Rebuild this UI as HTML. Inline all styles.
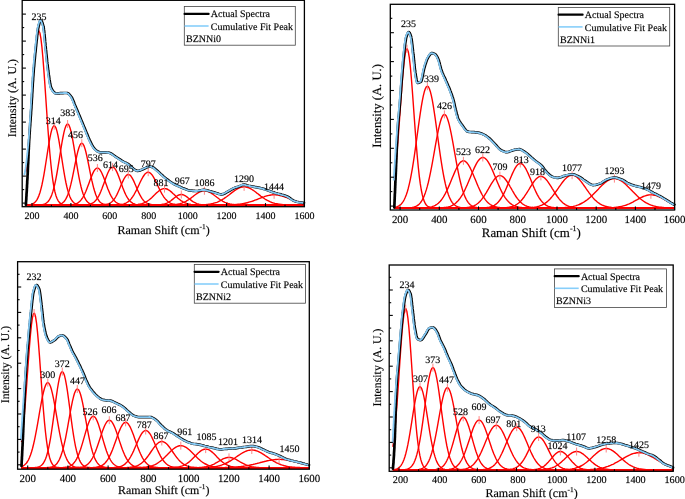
<!DOCTYPE html>
<html><head><meta charset="utf-8"><style>
html,body{margin:0;padding:0;background:#fff;overflow:hidden}
svg{display:block;will-change:transform;text-rendering:geometricPrecision;font-family:"Liberation Serif",serif;fill:#000}
text{stroke:#000;stroke-width:0.28px;stroke-opacity:0.55}
.r{fill:none;stroke:#f00;stroke-width:1.4;stroke-linejoin:round}
.m{stroke:#f77;stroke-width:0.9}
.k{fill:none;stroke:#000;stroke-width:2.7;stroke-linejoin:round;stroke-linecap:round}
.b{fill:none;stroke:#84c8f2;stroke-width:1.8;stroke-linejoin:round}
.fr{fill:none;stroke:#000;stroke-width:1.3}
.t{stroke:#000;stroke-width:1.1}
.lg{fill:none;stroke:#444;stroke-width:0.8}
.kl{stroke:#000;stroke-width:2.2;stroke-linecap:round}
.bl{stroke:#87cefa;stroke-width:1.6}
</style></head><body>
<svg width="685" height="499" viewBox="0 0 685 499">
<path d="M25.9,171.5 26.9,162.1 27.9,151.3 28.9,139 29.9,125.5 30.9,111.1 31.9,96.3 32.9,81.6 33.9,67.7 34.9,55.2 35.9,44.8 36.9,37 37.9,32.3 38.9,30.9 39.9,33 40.9,38.4 41.9,46.8 42.9,57.7 43.9,70.6 44.9,84.7 45.9,99.5 46.9,114.2 47.9,128.5 48.9,141.7 49.9,153.7 50.9,164.3 51.9,173.3 52.9,180.8 53.9,186.9 54.9,191.7 55.9,195.4 56.9,198.2 57.9,200.3 58.9,201.8 59.9,202.9 60.9,203.6 61.9,204.1 62.9,204.5 63.9,204.7 64.9,204.8 65.9,204.9 66.9,204.9 67.9,205 304.4,205" class="r"/>
<path d="M38.8,26.9V34.9" class="m"/>
<path d="M25.9,204.9 26.9,204.9 27.9,204.9 28.9,204.8 29.9,204.6 30.9,204.4 31.9,204.1 32.9,203.7 33.9,203.1 34.9,202.3 35.9,201.2 36.9,199.8 37.9,197.9 38.9,195.6 39.9,192.7 40.9,189.1 41.9,185 42.9,180.2 43.9,174.8 44.9,168.8 45.9,162.5 46.9,156.1 47.9,149.6 48.9,143.5 49.9,137.9 50.9,133.1 51.9,129.3 52.9,126.9 53.9,125.8 54.9,126.1 55.9,127.8 56.9,130.9 57.9,135.2 58.9,140.4 59.9,146.3 60.9,152.6 61.9,159.1 62.9,165.5 63.9,171.6 64.9,177.3 65.9,182.5 66.9,187 67.9,190.9 68.9,194.1 69.9,196.7 70.9,198.9 71.9,200.5 72.9,201.8 73.9,202.7 74.9,203.4 75.9,203.9 76.9,204.3 77.9,204.5 78.9,204.7 79.9,204.8 80.9,204.9 81.9,204.9 82.9,205 304.4,205" class="r"/>
<path d="M54.2,121.7V129.7" class="m"/>
<path d="M25.9,205 36.9,205 37.9,204.9 38.9,204.9 39.9,204.9 40.9,204.8 41.9,204.7 42.9,204.5 43.9,204.2 44.9,203.8 45.9,203.3 46.9,202.6 47.9,201.7 48.9,200.5 49.9,198.9 50.9,196.9 51.9,194.4 52.9,191.4 53.9,187.8 54.9,183.6 55.9,178.8 56.9,173.5 57.9,167.7 58.9,161.6 59.9,155.3 60.9,149 61.9,143 62.9,137.5 63.9,132.6 64.9,128.7 65.9,125.9 66.9,124.3 67.9,124.1 68.9,125.1 69.9,127.5 70.9,131 71.9,135.5 72.9,140.8 73.9,146.6 74.9,152.8 75.9,159.1 76.9,165.3 77.9,171.3 78.9,176.8 79.9,181.8 80.9,186.2 81.9,190 82.9,193.3 83.9,196 84.9,198.2 85.9,199.9 86.9,201.3 87.9,202.3 88.9,203.1 89.9,203.7 90.9,204.1 91.9,204.4 92.9,204.6 93.9,204.7 94.9,204.8 95.9,204.9 96.9,204.9 97.9,205 304.4,205" class="r"/>
<path d="M67.6,120V128" class="m"/>
<path d="M25.9,205 52.9,205 53.9,204.9 54.9,204.9 55.9,204.9 56.9,204.8 57.9,204.7 58.9,204.5 59.9,204.2 60.9,203.9 61.9,203.3 62.9,202.6 63.9,201.7 64.9,200.5 65.9,198.9 66.9,196.9 67.9,194.4 68.9,191.5 69.9,188.1 70.9,184.2 71.9,179.8 72.9,175.1 73.9,170.1 74.9,165 75.9,160.1 76.9,155.4 77.9,151.2 78.9,147.8 79.9,145.2 80.9,143.7 81.9,143.2 82.9,143.9 83.9,145.6 84.9,148.4 85.9,152 86.9,156.3 87.9,161 88.9,166 89.9,171.1 90.9,176 91.9,180.7 92.9,184.9 93.9,188.8 94.9,192.1 95.9,195 96.9,197.3 97.9,199.2 98.9,200.7 99.9,201.9 100.9,202.8 101.9,203.5 102.9,203.9 103.9,204.3 104.9,204.5 105.9,204.7 106.9,204.8 107.9,204.9 108.9,204.9 109.9,205 304.4,205" class="r"/>
<path d="M81.8,139.2V147.2" class="m"/>
<path d="M25.9,205 66.9,205 67.9,204.9 68.9,204.9 69.9,204.9 70.9,204.8 71.9,204.7 72.9,204.6 73.9,204.4 74.9,204.2 75.9,203.8 76.9,203.4 77.9,202.8 78.9,202.1 79.9,201.2 80.9,200.1 81.9,198.8 82.9,197.3 83.9,195.5 84.9,193.5 85.9,191.2 86.9,188.7 87.9,186.1 88.9,183.4 89.9,180.6 90.9,178 91.9,175.4 92.9,173.1 93.9,171.2 94.9,169.7 95.9,168.6 96.9,168.1 97.9,168.1 98.9,168.6 99.9,169.7 100.9,171.3 101.9,173.3 102.9,175.6 103.9,178.1 104.9,180.8 105.9,183.5 106.9,186.2 107.9,188.9 108.9,191.3 109.9,193.6 110.9,195.6 111.9,197.4 112.9,198.9 113.9,200.2 114.9,201.3 115.9,202.2 116.9,202.9 117.9,203.4 118.9,203.8 119.9,204.2 120.9,204.4 121.9,204.6 122.9,204.7 123.9,204.8 124.9,204.9 125.9,204.9 126.9,204.9 127.9,205 304.4,205" class="r"/>
<path d="M97.4,164V172" class="m"/>
<path d="M25.9,205 81.9,205 82.9,204.9 83.9,204.9 84.9,204.9 85.9,204.8 86.9,204.7 87.9,204.6 88.9,204.4 89.9,204.2 90.9,203.9 91.9,203.4 92.9,202.9 93.9,202.2 94.9,201.3 95.9,200.2 96.9,198.9 97.9,197.4 98.9,195.6 99.9,193.6 100.9,191.3 101.9,188.8 102.9,186.1 103.9,183.4 104.9,180.6 105.9,177.8 106.9,175.2 107.9,172.8 108.9,170.7 109.9,169 110.9,167.9 111.9,167.2 112.9,167.1 113.9,167.6 114.9,168.6 115.9,170.1 116.9,172.1 117.9,174.4 118.9,177 119.9,179.7 120.9,182.5 121.9,185.3 122.9,188 123.9,190.5 124.9,192.9 125.9,195 126.9,196.9 127.9,198.5 128.9,199.9 129.9,201 130.9,201.9 131.9,202.7 132.9,203.3 133.9,203.7 134.9,204.1 135.9,204.4 136.9,204.6 137.9,204.7 138.9,204.8 139.9,204.9 140.9,204.9 141.9,204.9 142.9,205 304.4,205" class="r"/>
<path d="M112.6,163.1V171.1" class="m"/>
<path d="M25.9,205 99.9,205 100.9,204.9 101.9,204.9 102.9,204.9 103.9,204.8 104.9,204.7 105.9,204.5 106.9,204.3 107.9,204 108.9,203.6 109.9,203.1 110.9,202.5 111.9,201.7 112.9,200.7 113.9,199.5 114.9,198.1 115.9,196.5 116.9,194.6 117.9,192.5 118.9,190.3 119.9,188 120.9,185.6 121.9,183.3 122.9,181.1 123.9,179 124.9,177.3 125.9,175.9 126.9,175 127.9,174.5 128.9,174.6 129.9,175.1 130.9,176.1 131.9,177.6 132.9,179.4 133.9,181.4 134.9,183.7 135.9,186 136.9,188.4 137.9,190.7 138.9,192.9 139.9,194.9 140.9,196.7 141.9,198.3 142.9,199.7 143.9,200.9 144.9,201.8 145.9,202.6 146.9,203.2 147.9,203.7 148.9,204.1 149.9,204.3 150.9,204.5 151.9,204.7 152.9,204.8 153.9,204.9 154.9,204.9 155.9,204.9 156.9,205 304.4,205" class="r"/>
<path d="M128.3,170.5V178.5" class="m"/>
<path d="M25.9,205 113.9,205 114.9,204.9 115.9,204.9 116.9,204.9 117.9,204.8 118.9,204.8 119.9,204.7 120.9,204.5 121.9,204.4 122.9,204.2 123.9,203.9 124.9,203.5 125.9,203.1 126.9,202.5 127.9,201.9 128.9,201.1 129.9,200.2 130.9,199.1 131.9,197.8 132.9,196.4 133.9,194.8 134.9,193 135.9,191.2 136.9,189.2 137.9,187.1 138.9,185 139.9,182.8 140.9,180.8 141.9,178.8 142.9,177 143.9,175.5 144.9,174.1 145.9,173.2 146.9,172.5 147.9,172.2 148.9,172.3 149.9,172.8 150.9,173.6 151.9,174.7 152.9,176.1 153.9,177.8 154.9,179.7 155.9,181.7 156.9,183.8 157.9,185.9 158.9,188 159.9,190.1 160.9,192 161.9,193.9 162.9,195.5 163.9,197.1 164.9,198.4 165.9,199.6 166.9,200.6 167.9,201.5 168.9,202.2 169.9,202.8 170.9,203.3 171.9,203.7 172.9,204 173.9,204.3 174.9,204.5 175.9,204.6 176.9,204.7 177.9,204.8 178.9,204.9 179.9,204.9 180.9,204.9 181.9,205 304.4,205" class="r"/>
<path d="M148.2,168.2V176.2" class="m"/>
<path d="M25.9,205 129.9,205 130.9,204.9 131.9,204.9 132.9,204.9 133.9,204.8 134.9,204.8 135.9,204.7 136.9,204.6 137.9,204.5 138.9,204.3 139.9,204.1 140.9,203.9 141.9,203.7 142.9,203.3 143.9,202.9 144.9,202.5 145.9,202 146.9,201.4 147.9,200.7 148.9,200 149.9,199.2 150.9,198.4 151.9,197.5 152.9,196.5 153.9,195.5 154.9,194.6 155.9,193.6 156.9,192.6 157.9,191.8 158.9,190.9 159.9,190.2 160.9,189.6 161.9,189.1 162.9,188.8 163.9,188.6 164.9,188.6 165.9,188.8 166.9,189 167.9,189.5 168.9,190.1 169.9,190.8 170.9,191.6 171.9,192.4 172.9,193.4 173.9,194.3 174.9,195.3 175.9,196.3 176.9,197.2 177.9,198.2 178.9,199 179.9,199.8 180.9,200.6 181.9,201.2 182.9,201.8 183.9,202.4 184.9,202.8 185.9,203.2 186.9,203.6 187.9,203.9 188.9,204.1 189.9,204.3 190.9,204.5 191.9,204.6 192.9,204.7 193.9,204.8 194.9,204.8 195.9,204.9 196.9,204.9 197.9,204.9 198.9,204.9 199.9,205 304.4,205" class="r"/>
<path d="M164.5,184.6V192.6" class="m"/>
<path d="M25.9,205 154.9,205 155.9,204.9 156.9,204.9 157.9,204.9 158.9,204.8 159.9,204.8 160.9,204.7 161.9,204.5 162.9,204.3 163.9,204.1 164.9,203.8 165.9,203.5 166.9,203.1 167.9,202.6 168.9,202 169.9,201.4 170.9,200.7 171.9,199.9 172.9,199.1 173.9,198.3 174.9,197.5 175.9,196.7 176.9,196 177.9,195.4 178.9,195 179.9,194.7 180.9,194.5 181.9,194.5 182.9,194.7 183.9,195.1 184.9,195.6 185.9,196.2 186.9,196.9 187.9,197.7 188.9,198.5 189.9,199.3 190.9,200.1 191.9,200.9 192.9,201.6 193.9,202.2 194.9,202.7 195.9,203.2 196.9,203.6 197.9,203.9 198.9,204.2 199.9,204.4 200.9,204.6 201.9,204.7 202.9,204.8 203.9,204.8 204.9,204.9 205.9,204.9 206.9,205 304.4,205" class="r"/>
<path d="M181.3,190.5V198.5" class="m"/>
<path d="M25.9,205 165.9,205 166.9,204.9 167.9,204.9 168.9,204.9 169.9,204.9 170.9,204.8 171.9,204.8 172.9,204.7 173.9,204.6 174.9,204.5 175.9,204.4 176.9,204.3 177.9,204.1 178.9,203.9 179.9,203.7 180.9,203.4 181.9,203.1 182.9,202.7 183.9,202.3 184.9,201.8 185.9,201.3 186.9,200.7 187.9,200.1 188.9,199.5 189.9,198.8 190.9,198.1 191.9,197.3 192.9,196.6 193.9,195.8 194.9,195 195.9,194.3 196.9,193.6 197.9,193 198.9,192.4 199.9,191.9 200.9,191.5 201.9,191.1 202.9,190.9 203.9,190.8 204.9,190.8 205.9,190.9 206.9,191.1 207.9,191.5 208.9,191.9 209.9,192.4 210.9,193 211.9,193.6 212.9,194.3 213.9,195 214.9,195.8 215.9,196.5 216.9,197.3 217.9,198 218.9,198.8 219.9,199.5 220.9,200.1 221.9,200.7 222.9,201.3 223.9,201.8 224.9,202.3 225.9,202.7 226.9,203 227.9,203.4 228.9,203.6 229.9,203.9 230.9,204.1 231.9,204.3 232.9,204.4 233.9,204.5 234.9,204.6 235.9,204.7 236.9,204.8 237.9,204.8 238.9,204.9 239.9,204.9 240.9,204.9 241.9,204.9 242.9,205 304.4,205" class="r"/>
<path d="M204.4,186.8V194.8" class="m"/>
<path d="M25.9,205 195.9,205 196.9,204.9 197.9,204.9 198.9,204.9 199.9,204.9 200.9,204.8 201.9,204.8 202.9,204.8 203.9,204.7 204.9,204.6 205.9,204.6 206.9,204.5 207.9,204.4 208.9,204.2 209.9,204.1 210.9,203.9 211.9,203.7 212.9,203.5 213.9,203.2 214.9,202.9 215.9,202.6 216.9,202.3 217.9,201.9 218.9,201.4 219.9,200.9 220.9,200.4 221.9,199.9 222.9,199.2 223.9,198.6 224.9,197.9 225.9,197.2 226.9,196.5 227.9,195.7 228.9,195 229.9,194.2 230.9,193.4 231.9,192.6 232.9,191.9 233.9,191.1 234.9,190.4 235.9,189.8 236.9,189.1 237.9,188.6 238.9,188.1 239.9,187.7 240.9,187.4 241.9,187.1 242.9,187 243.9,186.9 244.9,186.9 245.9,187 246.9,187.3 247.9,187.5 248.9,187.9 249.9,188.4 250.9,188.9 251.9,189.5 252.9,190.1 253.9,190.8 254.9,191.5 255.9,192.3 256.9,193.1 257.9,193.8 258.9,194.6 259.9,195.4 260.9,196.2 261.9,196.9 262.9,197.6 263.9,198.3 264.9,199 265.9,199.6 266.9,200.2 267.9,200.7 268.9,201.2 269.9,201.7 270.9,202.1 271.9,202.5 272.9,202.8 273.9,203.1 274.9,203.4 275.9,203.6 276.9,203.8 277.9,204 278.9,204.2 279.9,204.3 280.9,204.4 281.9,204.5 282.9,204.6 283.9,204.7 284.9,204.7 285.9,204.8 286.9,204.8 287.9,204.9 288.9,204.9 289.9,204.9 290.9,204.9 291.9,204.9 292.9,205 304.4,205" class="r"/>
<path d="M244.1,182.9V190.9" class="m"/>
<path d="M25.9,205 222.9,205 223.9,204.9 224.9,204.9 225.9,204.9 226.9,204.9 227.9,204.9 228.9,204.8 229.9,204.8 230.9,204.8 231.9,204.7 232.9,204.7 233.9,204.6 234.9,204.6 235.9,204.5 236.9,204.4 237.9,204.3 238.9,204.2 239.9,204.1 240.9,203.9 241.9,203.8 242.9,203.6 243.9,203.4 244.9,203.2 245.9,203 246.9,202.8 247.9,202.5 248.9,202.2 249.9,201.9 250.9,201.6 251.9,201.3 252.9,201 253.9,200.6 254.9,200.2 255.9,199.8 256.9,199.5 257.9,199.1 258.9,198.7 259.9,198.3 260.9,197.9 261.9,197.5 262.9,197.1 263.9,196.8 264.9,196.4 265.9,196.1 266.9,195.8 267.9,195.6 268.9,195.4 269.9,195.2 270.9,195 271.9,194.9 272.9,194.8 273.9,194.8 274.9,194.8 275.9,194.9 276.9,195 277.9,195.1 278.9,195.3 279.9,195.5 280.9,195.7 281.9,196 282.9,196.3 283.9,196.6 284.9,197 285.9,197.4 286.9,197.7 287.9,198.1 288.9,198.5 289.9,198.9 290.9,199.3 291.9,199.7 292.9,200.1 293.9,200.5 294.9,200.8 295.9,201.2 296.9,201.5 297.9,201.8 298.9,202.1 299.9,202.4 300.9,202.7 301.9,202.9 302.9,203.2 303.9,203.4 304.4,203.5" class="r"/>
<path d="M274.1,190.8V198.8" class="m"/>
<path d="M25.9,204.6 26,203.5 26,202.4 26.1,201.3 26.2,200.2 26.3,199.1 26.3,197.9 26.4,196.7 26.5,195.6 26.5,194.4 26.6,193.2 26.7,191.9 26.8,190.7 26.8,189.5 26.9,188.2 27,186.9 27,185.7 27.1,184.4 27.2,183.1 27.2,181.7 27.3,180.4 27.4,179.1 27.5,177.7 27.5,176.4 27.6,175 27.7,173.9 27.7,172.8 27.8,171.6 27.8,170.5 27.9,169.3 27.9,168.1 28,166.8 28,165.6 28.1,164.3 28.2,163 28.2,161.7 28.3,160.4 28.3,159.1 28.4,157.8 28.4,156.6 28.5,155.3 28.5,154 28.6,152.7 28.6,151.4 28.7,150.2 28.8,149 28.8,147.7 28.9,146.6 28.9,145.4 29,144.2 29,143.1 29.1,142.1 29.1,141 29.2,140 29.3,138.6 29.4,137.2 29.4,135.9 29.5,134.6 29.6,133.3 29.7,132 29.8,130.8 29.8,129.6 29.9,128.4 30,127.2 30.1,126.1 30.2,124.9 30.2,123.8 30.3,122.7 30.4,121.6 30.5,120.4 30.6,119.3 30.6,118.2 30.7,117.1 30.8,115.9 30.9,114.8 31,113.6 31,112.4 31.1,111.2 31.2,110 31.3,108.8 31.4,107.6 31.4,106.3 31.5,105.1 31.6,103.8 31.7,102.6 31.7,101.3 31.8,100 31.9,98.7 32,97.4 32.1,96.1 32.1,94.8 32.2,93.5 32.3,92.1 32.4,90.8 32.4,89.6 32.5,88.3 32.6,87 32.7,85.7 32.7,84.5 32.8,83.2 32.9,82 33,80.8 33.1,79.6 33.1,78.4 33.2,77.3 33.3,76.2 33.4,75.1 33.4,74 33.5,73 33.6,72 33.7,70.5 33.8,69.1 33.9,67.7 34.1,66.4 34.2,65 34.3,63.7 34.4,62.4 34.5,61.2 34.6,59.9 34.8,58.7 34.9,57.5 35,56.3 35.1,55.2 35.2,54 35.3,52.9 35.5,51.8 35.6,50.7 35.7,49.6 35.8,48.5 35.9,47.1 36.1,45.7 36.2,44.2 36.4,42.8 36.5,41.3 36.7,39.9 36.9,38.5 37,37.1 37.1,35.7 37.3,34.4 37.4,33.1 37.6,31.9 37.8,30.8 37.9,29.8 38,28.8 38.2,27.9 38.4,27.2 38.5,26.5 39,24.7 39.4,23 39.9,21.6 40.3,20.7 40.8,20.3 41.3,20.6 41.8,21.5 42.4,22.9 42.9,24.6 43.4,26.5 43.5,27.1 43.7,27.8 43.8,28.7 43.9,29.7 44.1,30.8 44.2,31.9 44.3,33.2 44.5,34.5 44.6,35.9 44.7,37.3 44.9,38.8 45,40.2 45.1,41.7 45.3,43.1 45.4,44.6 45.5,45.9 45.7,47.3 45.8,48.5 45.9,49.7 46.1,51 46.2,52.3 46.3,53.6 46.5,54.9 46.6,56.2 46.7,57.5 46.9,58.8 47,60.1 47.1,61.4 47.3,62.7 47.4,63.9 47.6,65.2 47.7,66.4 47.8,67.6 48,68.7 48.1,69.8 48.2,70.8 48.4,71.8 48.5,72.8 48.7,74.4 49,76 49.2,77.6 49.4,79.2 49.7,80.8 49.9,82.2 50.1,83.6 50.4,84.8 50.6,85.9 50.8,86.9 51.1,87.6 51.3,88.2 52.5,90.4 53.8,92 55,93.1 56.2,93.5 57.6,93.4 59,93.3 60.3,93.2 61.7,93.1 63.1,93.1 64.5,93 65.8,93 67.2,93 68.7,93.7 70.1,95.3 71.6,97.3 72.2,98.3 72.7,99.5 73.3,100.9 73.9,102.3 74.4,103.8 75,105.2 75.6,106.6 76.2,108 76.8,109.4 77.4,110.8 77.9,112 78.4,113.2 78.9,114.4 79.4,115.6 79.9,116.8 80.4,118 80.9,119.2 81.4,120.4 81.9,121.6 82.4,122.8 82.9,124 83.4,125.2 83.9,126.4 84.4,127.6 84.9,128.8 85.4,130 85.9,131.2 86.4,132.4 87,133.9 87.6,135.3 88.2,136.8 88.8,138.2 89.4,139.6 90,140.9 90.6,142.2 91.2,143.4 91.8,144.6 92.4,145.6 93.4,147.2 94.4,148.7 95.4,149.8 96.9,151 98.5,151.9 100,152.3 101.6,152.3 103.1,152.3 104.7,152.3 106.2,152.4 107.8,152.5 109.3,152.8 111,153.5 112.8,154.6 114,155.5 115.2,156.4 117,157.6 118.7,158.7 120.3,159.7 121.8,160.7 123.4,161.6 124.9,162.4 126.5,163.1 128,163.9 129.8,165.3 131.5,166.9 133.2,168.5 135,169.8 136.2,170.5 137.4,170.9 139.2,170.6 140.9,170.1 142.4,169.5 144,168.7 145.5,168 147.2,167.1 149,166.6 150.8,166.7 152.6,167.1 154.3,168.2 156.1,169.8 157.6,171.1 159.2,172.5 160.7,173.9 162.3,175.3 163.8,176.7 165.4,178 166.9,179.2 168.5,180.4 170,181.5 171.5,182.5 172.9,183.4 174.4,184.2 175.9,185 177.3,185.6 178.6,186.2 180,186.8 181.3,187.4 182.6,188 183.9,188.5 185.2,189 186.5,189.5 187.8,190 189.1,190.4 190.4,190.6 191.7,190.7 193,190.8 194.4,190.9 195.7,191 197,191 198.3,190.9 199.6,190.6 201,190.3 202.3,190 203.6,189.9 204.9,190 206.2,190.2 207.5,190.5 208.8,190.9 210.1,191.2 211.4,191.6 212.7,192 214.1,192.4 215.4,192.8 216.7,193.2 217.9,193.6 219.1,194 220.4,194.3 221.6,194.4 222.9,194.2 224.2,193.7 225.5,193 226.8,192.2 228.1,191.5 229.4,190.8 230.7,190 232.1,189.2 233.4,188.5 234.7,187.9 235.9,187.5 237.1,187.1 238.3,186.7 239.5,186.3 241,185.6 242.5,184.9 244,184.6 245.5,184.8 247,185.3 248.5,185.7 250,186 251.4,186.3 252.9,186.6 254.4,186.9 255.7,187.2 257,187.4 258.4,187.6 259.7,187.9 261,188.2 262.3,188.5 263.6,188.9 265,189.3 266.3,189.8 267.6,190.2 268.9,190.7 270.2,191.2 271.5,191.7 272.8,192.2 274.1,192.6 275.4,193 276.7,193.3 278.1,193.7 279.4,194 280.7,194.4 282,194.8 283.3,195.1 284.7,195.5 286,196 287.3,196.5 288.6,197.2 289.9,198.1 291.2,199.1 292.5,200 293.8,200.7 295.1,201.2 296.5,201.7 297.8,202 299.1,202.3 300.3,202.5 301.6,202.6 302.8,202.8 304,202.8" class="k"/>
<path d="M24.9,175 25,174.5 25.2,173.8 25.3,173.2 25.5,172.4 25.6,171.6 25.8,170.8 25.9,169.9 26.1,168.9 26.2,167.9 26.4,166.9 26.5,165.7 26.7,164.6 26.8,163.4 27,162.2 27.1,160.9 27.3,159.6 27.4,158.2 27.6,156.8 27.7,155.4 27.9,154 28,152.5 28.2,151 28.3,149.5 28.5,148 28.6,146.4 28.8,144.8 28.9,143.2 29.1,141.6 29.2,140 29.3,139.1 29.4,138.2 29.4,137.2 29.5,136.1 29.6,135.1 29.7,134 29.8,132.8 29.8,131.7 29.9,130.5 30,129.2 30.1,128 30.2,126.7 30.2,125.5 30.3,124.2 30.4,122.9 30.5,121.6 30.6,120.3 30.6,119 30.7,117.7 30.8,116.4 30.9,115.1 31,113.8 31,112.5 31.1,111.2 31.2,110 31.3,108.8 31.4,107.6 31.4,106.3 31.5,105.1 31.6,103.8 31.7,102.6 31.7,101.3 31.8,100 31.9,98.7 32,97.4 32.1,96.1 32.1,94.8 32.2,93.5 32.3,92.1 32.4,90.8 32.4,89.6 32.5,88.3 32.6,87 32.7,85.7 32.7,84.5 32.8,83.2 32.9,82 33,80.8 33.1,79.6 33.1,78.4 33.2,77.3 33.3,76.2 33.4,75.1 33.4,74 33.5,73 33.6,72 33.7,70.5 33.8,69.1 33.9,67.7 34.1,66.4 34.2,65 34.3,63.7 34.4,62.4 34.5,61.2 34.6,59.9 34.8,58.7 34.9,57.5 35,56.3 35.1,55.2 35.2,54 35.3,52.9 35.5,51.8 35.6,50.7 35.7,49.6 35.8,48.5 35.9,47.1 36.1,45.7 36.2,44.2 36.4,42.8 36.5,41.3 36.7,39.9 36.9,38.5 37,37.1 37.1,35.7 37.3,34.4 37.4,33.1 37.6,31.9 37.8,30.8 37.9,29.8 38,28.8 38.2,27.9 38.4,27.2 38.5,26.5 39,24.7 39.4,23 39.9,21.6 40.3,20.7 40.8,20.3 41.3,20.6 41.8,21.5 42.4,22.9 42.9,24.6 43.4,26.5 43.5,27.1 43.7,27.8 43.8,28.7 43.9,29.7 44.1,30.8 44.2,31.9 44.3,33.2 44.5,34.5 44.6,35.9 44.7,37.3 44.9,38.8 45,40.2 45.1,41.7 45.3,43.1 45.4,44.6 45.5,45.9 45.7,47.3 45.8,48.5 45.9,49.7 46.1,51 46.2,52.3 46.3,53.6 46.5,54.9 46.6,56.2 46.7,57.5 46.9,58.8 47,60.1 47.1,61.4 47.3,62.7 47.4,63.9 47.6,65.2 47.7,66.4 47.8,67.6 48,68.7 48.1,69.8 48.2,70.8 48.4,71.8 48.5,72.8 48.7,74.4 49,76 49.2,77.6 49.4,79.2 49.7,80.8 49.9,82.2 50.1,83.6 50.4,84.8 50.6,85.9 50.8,86.9 51.1,87.6 51.3,88.2 52.5,90.4 53.8,92 55,93.1 56.2,93.5 57.6,93.4 59,93.3 60.3,93.2 61.7,93.1 63.1,93.1 64.5,93 65.8,93 67.2,93 68.7,93.7 70.1,95.3 71.6,97.3 72.2,98.3 72.7,99.5 73.3,100.9 73.9,102.3 74.4,103.8 75,105.2 75.6,106.6 76.2,108 76.8,109.4 77.4,110.8 77.9,112 78.4,113.2 78.9,114.4 79.4,115.6 79.9,116.8 80.4,118 80.9,119.2 81.4,120.4 81.9,121.6 82.4,122.8 82.9,124 83.4,125.2 83.9,126.4 84.4,127.6 84.9,128.8 85.4,130 85.9,131.2 86.4,132.4 87,133.9 87.6,135.3 88.2,136.8 88.8,138.2 89.4,139.6 90,140.9 90.6,142.2 91.2,143.4 91.8,144.6 92.4,145.6 93.4,147.2 94.4,148.7 95.4,149.8 96.9,151 98.5,151.9 100,152.3 101.6,152.3 103.1,152.3 104.7,152.3 106.2,152.4 107.8,152.5 109.3,152.8 111,153.5 112.8,154.6 114,155.5 115.2,156.4 117,157.6 118.7,158.7 120.3,159.7 121.8,160.7 123.4,161.6 124.9,162.4 126.5,163.1 128,163.9 129.8,165.3 131.5,166.9 133.2,168.5 135,169.8 136.2,170.5 137.4,170.9 139.2,170.6 140.9,170.1 142.4,169.5 144,168.7 145.5,168 147.2,167.1 149,166.6 150.8,166.7 152.6,167.1 154.3,168.2 156.1,169.8 157.6,171.1 159.2,172.5 160.7,173.9 162.3,175.3 163.8,176.7 165.4,178 166.9,179.2 168.5,180.4 170,181.5 171.5,182.5 172.9,183.4 174.4,184.2 175.9,185 177.3,185.6 178.6,186.2 180,186.8 181.3,187.4 182.6,188 183.9,188.5 185.2,189 186.5,189.5 187.8,190 189.1,190.4 190.4,190.6 191.7,190.7 193,190.8 194.4,190.9 195.7,191 197,191 198.3,190.9 199.6,190.6 201,190.3 202.3,190 203.6,189.9 204.9,190 206.2,190.2 207.5,190.5 208.8,190.9 210.1,191.2 211.4,191.6 212.7,192 214.1,192.4 215.4,192.8 216.7,193.2 217.9,193.6 219.1,194 220.4,194.3 221.6,194.4 222.9,194.2 224.2,193.7 225.5,193 226.8,192.2 228.1,191.5 229.4,190.8 230.7,190 232.1,189.2 233.4,188.5 234.7,187.9 235.9,187.5 237.1,187.1 238.3,186.7 239.5,186.3 241,185.6 242.5,184.9 244,184.6 245.5,184.8 247,185.3 248.5,185.7 250,186 251.4,186.3 252.9,186.6 254.4,186.9 255.7,187.2 257,187.4 258.4,187.6 259.7,187.9 261,188.2 262.3,188.5 263.6,188.9 265,189.3 266.3,189.8 267.6,190.2 268.9,190.7 270.2,191.2 271.5,191.7 272.8,192.2 274.1,192.6 275.4,193 276.7,193.3 278.1,193.7 279.4,194 280.7,194.4 282,194.8 283.3,195.1 284.7,195.5 286,196 287.3,196.5 288.6,197.2 289.9,198.1 291.2,199.1 292.5,200 293.8,200.7 295.1,201.2 296.5,201.7 297.8,202 299.1,202.3 300.3,202.5 301.6,202.6 302.8,202.8 304,202.8" class="b" transform="translate(-0.6,0)"/>
<rect x="22.2" y="0.3" width="282.2" height="206.4" class="fr"/>
<path d="M32,206.7V203.1" class="t"/>
<text x="32" y="218.8" text-anchor="middle" font-size="10">200</text>
<path d="M51.4,206.7V204.7" class="t"/>
<path d="M70.9,206.7V203.1" class="t"/>
<text x="70.9" y="218.8" text-anchor="middle" font-size="10">400</text>
<path d="M90.4,206.7V204.7" class="t"/>
<path d="M109.8,206.7V203.1" class="t"/>
<text x="109.8" y="218.8" text-anchor="middle" font-size="10">600</text>
<path d="M129.3,206.7V204.7" class="t"/>
<path d="M148.8,206.7V203.1" class="t"/>
<text x="148.8" y="218.8" text-anchor="middle" font-size="10">800</text>
<path d="M168.2,206.7V204.7" class="t"/>
<path d="M187.7,206.7V203.1" class="t"/>
<text x="187.7" y="218.8" text-anchor="middle" font-size="10">1000</text>
<path d="M207.1,206.7V204.7" class="t"/>
<path d="M226.6,206.7V203.1" class="t"/>
<text x="226.6" y="218.8" text-anchor="middle" font-size="10">1200</text>
<path d="M246.1,206.7V204.7" class="t"/>
<path d="M265.5,206.7V203.1" class="t"/>
<text x="265.5" y="218.8" text-anchor="middle" font-size="10">1400</text>
<path d="M285,206.7V204.7" class="t"/>
<path d="M304.4,206.7V203.1" class="t"/>
<text x="304.4" y="218.8" text-anchor="middle" font-size="10">1600</text>
<path d="M22.2,14.1H25.9" class="t"/>
<path d="M22.2,27.6H24.2" class="t"/>
<path d="M22.2,41.1H25.9" class="t"/>
<path d="M22.2,54.6H24.2" class="t"/>
<path d="M22.2,68.1H25.9" class="t"/>
<path d="M22.2,81.6H24.2" class="t"/>
<path d="M22.2,95.1H25.9" class="t"/>
<path d="M22.2,108.6H24.2" class="t"/>
<path d="M22.2,122.1H25.9" class="t"/>
<path d="M22.2,135.6H24.2" class="t"/>
<path d="M22.2,149.1H25.9" class="t"/>
<path d="M22.2,162.6H24.2" class="t"/>
<path d="M22.2,176.1H25.9" class="t"/>
<path d="M22.2,189.6H24.2" class="t"/>
<path d="M22.2,203.1H25.9" class="t"/>
<text x="31.6" y="20" font-size="10">235</text>
<text x="45.8" y="123.9" font-size="10">314</text>
<text x="60.2" y="115.9" font-size="10">383</text>
<text x="68" y="137.8" font-size="10">456</text>
<text x="87.8" y="160.9" font-size="10">536</text>
<text x="102.9" y="167.5" font-size="10">614</text>
<text x="118.7" y="171.5" font-size="10">695</text>
<text x="140.8" y="167.2" font-size="10">797</text>
<text x="153.5" y="185.6" font-size="10">881</text>
<text x="174.7" y="184.3" font-size="10">967</text>
<text x="194.4" y="185.6" font-size="10">1086</text>
<text x="234.1" y="182" font-size="10">1290</text>
<text x="264.1" y="189.9" font-size="10">1444</text>
<rect x="184.3" y="6.5" width="111" height="38.7" class="lg"/>
<path d="M184.6,13.9H208.6" class="kl"/>
<path d="M184.6,26H208.6" class="bl"/>
<text x="210.8" y="17.3" font-size="10">Actual Spectra</text>
<text x="210.8" y="29.8" font-size="10">Cumulative Fit Peak</text>
<text x="186" y="41.6" font-size="10">BZNNi0</text>
<text x="117.5" y="233.8" font-size="12">Raman Shift (cm<tspan font-size="7.4" dy="-5">-1</tspan><tspan dy="5">)</tspan></text>
<text transform="translate(15.6,137.3) rotate(-90)" font-size="11.85">Intensity (A. U.)</text>
<path d="M394.3,179 395.3,170.4 396.3,160.4 397.3,148.9 398.3,136.2 399.3,122.6 400.3,108.6 401.3,94.7 402.3,81.6 403.3,69.9 404.3,60.3 405.3,53.3 406.3,49.4 407.3,48.9 408.3,51.7 409.3,57.7 410.3,66.4 411.3,77.5 412.3,90.2 413.3,104 414.3,118 415.3,131.8 416.3,144.8 417.3,156.7 418.3,167.3 419.3,176.3 420.3,183.9 421.3,190 422.3,194.9 423.3,198.6 424.3,201.4 425.3,203.5 426.3,205 427.3,206 428.3,206.7 429.3,207.2 430.3,207.5 431.3,207.7 432.3,207.8 433.3,207.9 434.3,207.9 435.3,208 674.6,208" class="r"/>
<path d="M407,44.7V52.7" class="m"/>
<path d="M394.3,207.5 395.3,207.3 396.3,207 397.3,206.7 398.3,206.2 399.3,205.6 400.3,204.9 401.3,203.9 402.3,202.7 403.3,201.3 404.3,199.5 405.3,197.3 406.3,194.7 407.3,191.7 408.3,188.2 409.3,184.1 410.3,179.6 411.3,174.4 412.3,168.8 413.3,162.7 414.3,156.1 415.3,149.1 416.3,141.9 417.3,134.5 418.3,127.2 419.3,120 420.3,113.1 421.3,106.6 422.3,100.8 423.3,95.8 424.3,91.8 425.3,88.8 426.3,86.9 427.3,86.2 428.3,86.7 429.3,88.5 430.3,91.4 431.3,95.3 432.3,100.2 433.3,105.9 434.3,112.3 435.3,119.2 436.3,126.3 437.3,133.7 438.3,141.1 439.3,148.3 440.3,155.3 441.3,161.9 442.3,168.1 443.3,173.8 444.3,179 445.3,183.7 446.3,187.8 447.3,191.3 448.3,194.4 449.3,197 450.3,199.2 451.3,201.1 452.3,202.6 453.3,203.8 454.3,204.8 455.3,205.5 456.3,206.2 457.3,206.6 458.3,207 459.3,207.3 460.3,207.5 461.3,207.6 462.3,207.7 463.3,207.8 464.3,207.9 465.3,207.9 466.3,207.9 467.3,208 674.6,208" class="r"/>
<path d="M427.4,82.2V90.2" class="m"/>
<path d="M394.3,208 405.3,208 406.3,207.9 407.3,207.9 408.3,207.9 409.3,207.8 410.3,207.7 411.3,207.6 412.3,207.5 413.3,207.3 414.3,207 415.3,206.6 416.3,206.2 417.3,205.6 418.3,204.9 419.3,204 420.3,202.9 421.3,201.5 422.3,199.9 423.3,197.9 424.3,195.6 425.3,192.9 426.3,189.9 427.3,186.4 428.3,182.5 429.3,178.1 430.3,173.4 431.3,168.4 432.3,163.1 433.3,157.5 434.3,151.9 435.3,146.2 436.3,140.7 437.3,135.3 438.3,130.4 439.3,125.9 440.3,122 441.3,118.8 442.3,116.5 443.3,115 444.3,114.4 445.3,114.8 446.3,116 447.3,118.2 448.3,121.2 449.3,124.9 450.3,129.3 451.3,134.2 452.3,139.4 453.3,144.9 454.3,150.6 455.3,156.2 456.3,161.8 457.3,167.2 458.3,172.3 459.3,177.1 460.3,181.5 461.3,185.5 462.3,189.1 463.3,192.3 464.3,195 465.3,197.4 466.3,199.5 467.3,201.2 468.3,202.6 469.3,203.8 470.3,204.7 471.3,205.5 472.3,206.1 473.3,206.6 474.3,206.9 475.3,207.2 476.3,207.4 477.3,207.6 478.3,207.7 479.3,207.8 480.3,207.9 481.3,207.9 482.3,207.9 483.3,208 674.6,208" class="r"/>
<path d="M444.4,110.4V118.4" class="m"/>
<path d="M394.3,208 419.3,208 420.3,207.9 421.3,207.9 422.3,207.9 423.3,207.9 424.3,207.8 425.3,207.8 426.3,207.7 427.3,207.6 428.3,207.5 429.3,207.3 430.3,207.1 431.3,206.9 432.3,206.6 433.3,206.2 434.3,205.8 435.3,205.3 436.3,204.7 437.3,204 438.3,203.2 439.3,202.2 440.3,201.2 441.3,200 442.3,198.6 443.3,197.1 444.3,195.4 445.3,193.6 446.3,191.7 447.3,189.6 448.3,187.4 449.3,185.1 450.3,182.7 451.3,180.3 452.3,177.8 453.3,175.4 454.3,173.1 455.3,170.8 456.3,168.7 457.3,166.8 458.3,165.1 459.3,163.6 460.3,162.4 461.3,161.6 462.3,161 463.3,160.8 464.3,160.9 465.3,161.4 466.3,162.2 467.3,163.3 468.3,164.7 469.3,166.3 470.3,168.2 471.3,170.3 472.3,172.5 473.3,174.8 474.3,177.2 475.3,179.6 476.3,182 477.3,184.4 478.3,186.8 479.3,189 480.3,191.1 481.3,193.1 482.3,195 483.3,196.7 484.3,198.2 485.3,199.6 486.3,200.9 487.3,202 488.3,202.9 489.3,203.8 490.3,204.5 491.3,205.1 492.3,205.7 493.3,206.1 494.3,206.5 495.3,206.8 496.3,207 497.3,207.3 498.3,207.4 499.3,207.5 500.3,207.7 501.3,207.7 502.3,207.8 503.3,207.8 504.3,207.9 505.3,207.9 506.3,207.9 507.3,208 674.6,208" class="r"/>
<path d="M463.4,156.8V164.8" class="m"/>
<path d="M394.3,208 435.3,208 436.3,207.9 437.3,207.9 438.3,207.9 439.3,207.9 440.3,207.8 441.3,207.8 442.3,207.7 443.3,207.6 444.3,207.5 445.3,207.4 446.3,207.3 447.3,207.1 448.3,206.9 449.3,206.6 450.3,206.3 451.3,205.9 452.3,205.4 453.3,204.8 454.3,204.2 455.3,203.5 456.3,202.6 457.3,201.6 458.3,200.5 459.3,199.3 460.3,197.9 461.3,196.4 462.3,194.8 463.3,193 464.3,191.1 465.3,189 466.3,186.8 467.3,184.6 468.3,182.2 469.3,179.8 470.3,177.4 471.3,174.9 472.3,172.5 473.3,170.2 474.3,167.9 475.3,165.9 476.3,163.9 477.3,162.2 478.3,160.7 479.3,159.5 480.3,158.5 481.3,157.9 482.3,157.5 483.3,157.5 484.3,157.8 485.3,158.5 486.3,159.4 487.3,160.6 488.3,162.1 489.3,163.8 490.3,165.7 491.3,167.8 492.3,170 493.3,172.3 494.3,174.7 495.3,177.1 496.3,179.6 497.3,182 498.3,184.3 499.3,186.6 500.3,188.8 501.3,190.9 502.3,192.8 503.3,194.6 504.3,196.3 505.3,197.8 506.3,199.2 507.3,200.4 508.3,201.5 509.3,202.5 510.3,203.4 511.3,204.1 512.3,204.8 513.3,205.3 514.3,205.8 515.3,206.2 516.3,206.6 517.3,206.8 518.3,207.1 519.3,207.3 520.3,207.4 521.3,207.5 522.3,207.6 523.3,207.7 524.3,207.8 525.3,207.8 526.3,207.9 527.3,207.9 528.3,207.9 529.3,207.9 530.3,208 674.6,208" class="r"/>
<path d="M482.8,153.5V161.5" class="m"/>
<path d="M394.3,208 459.3,208 460.3,207.9 461.3,207.9 462.3,207.9 463.3,207.8 464.3,207.8 465.3,207.7 466.3,207.6 467.3,207.5 468.3,207.4 469.3,207.2 470.3,207 471.3,206.8 472.3,206.5 473.3,206.1 474.3,205.7 475.3,205.1 476.3,204.5 477.3,203.8 478.3,203 479.3,202.1 480.3,201 481.3,199.9 482.3,198.6 483.3,197.3 484.3,195.8 485.3,194.2 486.3,192.6 487.3,190.8 488.3,189.1 489.3,187.3 490.3,185.6 491.3,183.9 492.3,182.3 493.3,180.8 494.3,179.4 495.3,178.2 496.3,177.2 497.3,176.5 498.3,175.9 499.3,175.6 500.3,175.6 501.3,175.9 502.3,176.3 503.3,177.1 504.3,178 505.3,179.2 506.3,180.5 507.3,182 508.3,183.6 509.3,185.2 510.3,187 511.3,188.7 512.3,190.5 513.3,192.2 514.3,193.9 515.3,195.5 516.3,197 517.3,198.4 518.3,199.6 519.3,200.8 520.3,201.9 521.3,202.8 522.3,203.7 523.3,204.4 524.3,205 525.3,205.6 526.3,206 527.3,206.4 528.3,206.7 529.3,207 530.3,207.2 531.3,207.4 532.3,207.5 533.3,207.6 534.3,207.7 535.3,207.8 536.3,207.8 537.3,207.9 538.3,207.9 539.3,207.9 540.3,208 674.6,208" class="r"/>
<path d="M499.9,171.6V179.6" class="m"/>
<path d="M394.3,208 479.3,208 480.3,207.9 481.3,207.9 482.3,207.9 483.3,207.8 484.3,207.8 485.3,207.7 486.3,207.6 487.3,207.5 488.3,207.4 489.3,207.2 490.3,206.9 491.3,206.6 492.3,206.3 493.3,205.8 494.3,205.3 495.3,204.7 496.3,203.9 497.3,203 498.3,202 499.3,200.8 500.3,199.5 501.3,198 502.3,196.4 503.3,194.6 504.3,192.6 505.3,190.5 506.3,188.2 507.3,185.9 508.3,183.5 509.3,181 510.3,178.6 511.3,176.2 512.3,173.9 513.3,171.7 514.3,169.7 515.3,167.9 516.3,166.3 517.3,165.1 518.3,164.2 519.3,163.7 520.3,163.5 521.3,163.7 522.3,164.2 523.3,165.1 524.3,166.4 525.3,167.9 526.3,169.7 527.3,171.7 528.3,173.9 529.3,176.2 530.3,178.6 531.3,181.1 532.3,183.5 533.3,185.9 534.3,188.3 535.3,190.5 536.3,192.6 537.3,194.6 538.3,196.4 539.3,198.1 540.3,199.5 541.3,200.9 542.3,202 543.3,203 544.3,203.9 545.3,204.7 546.3,205.3 547.3,205.8 548.3,206.3 549.3,206.6 550.3,206.9 551.3,207.2 552.3,207.4 553.3,207.5 554.3,207.6 555.3,207.7 556.3,207.8 557.3,207.8 558.3,207.9 559.3,207.9 560.3,207.9 561.3,208 674.6,208" class="r"/>
<path d="M520.3,159.5V167.5" class="m"/>
<path d="M394.3,208 499.3,208 500.3,207.9 501.3,207.9 502.3,207.9 503.3,207.8 504.3,207.8 505.3,207.7 506.3,207.6 507.3,207.5 508.3,207.4 509.3,207.2 510.3,207 511.3,206.8 512.3,206.5 513.3,206.2 514.3,205.7 515.3,205.3 516.3,204.7 517.3,204 518.3,203.3 519.3,202.5 520.3,201.5 521.3,200.5 522.3,199.3 523.3,198 524.3,196.7 525.3,195.2 526.3,193.7 527.3,192.1 528.3,190.5 529.3,188.9 530.3,187.2 531.3,185.6 532.3,184 533.3,182.5 534.3,181.1 535.3,179.9 536.3,178.8 537.3,177.9 538.3,177.2 539.3,176.7 540.3,176.4 541.3,176.4 542.3,176.6 543.3,177.1 544.3,177.8 545.3,178.6 546.3,179.7 547.3,180.9 548.3,182.3 549.3,183.8 550.3,185.3 551.3,186.9 552.3,188.6 553.3,190.2 554.3,191.9 555.3,193.5 556.3,195 557.3,196.5 558.3,197.8 559.3,199.1 560.3,200.3 561.3,201.3 562.3,202.3 563.3,203.2 564.3,203.9 565.3,204.6 566.3,205.2 567.3,205.7 568.3,206.1 569.3,206.5 570.3,206.8 571.3,207 572.3,207.2 573.3,207.4 574.3,207.5 575.3,207.6 576.3,207.7 577.3,207.8 578.3,207.8 579.3,207.9 580.3,207.9 581.3,207.9 582.3,207.9 583.3,208 674.6,208" class="r"/>
<path d="M540.9,172.4V180.4" class="m"/>
<path d="M394.3,208 522.3,208 523.3,207.9 524.3,207.9 525.3,207.9 526.3,207.9 527.3,207.8 528.3,207.8 529.3,207.7 530.3,207.7 531.3,207.6 532.3,207.5 533.3,207.4 534.3,207.3 535.3,207.1 536.3,206.9 537.3,206.7 538.3,206.4 539.3,206.1 540.3,205.7 541.3,205.3 542.3,204.9 543.3,204.3 544.3,203.8 545.3,203.1 546.3,202.4 547.3,201.6 548.3,200.7 549.3,199.7 550.3,198.7 551.3,197.5 552.3,196.4 553.3,195.1 554.3,193.8 555.3,192.4 556.3,191 557.3,189.6 558.3,188.2 559.3,186.7 560.3,185.3 561.3,183.9 562.3,182.5 563.3,181.2 564.3,180 565.3,178.9 566.3,178 567.3,177.1 568.3,176.4 569.3,175.9 570.3,175.5 571.3,175.2 572.3,175.2 573.3,175.3 574.3,175.6 575.3,176.1 576.3,176.7 577.3,177.5 578.3,178.4 579.3,179.5 580.3,180.6 581.3,181.9 582.3,183.2 583.3,184.6 584.3,186 585.3,187.4 586.3,188.9 587.3,190.3 588.3,191.7 589.3,193.1 590.3,194.4 591.3,195.7 592.3,196.9 593.3,198.1 594.3,199.2 595.3,200.2 596.3,201.1 597.3,202 598.3,202.7 599.3,203.4 600.3,204.1 601.3,204.6 602.3,205.1 603.3,205.5 604.3,205.9 605.3,206.3 606.3,206.5 607.3,206.8 608.3,207 609.3,207.2 610.3,207.3 611.3,207.4 612.3,207.6 613.3,207.6 614.3,207.7 615.3,207.8 616.3,207.8 617.3,207.9 618.3,207.9 619.3,207.9 620.3,207.9 621.3,207.9 622.3,208 674.6,208" class="r"/>
<path d="M572.1,171.2V179.2" class="m"/>
<path d="M394.3,208 553.3,208 554.3,207.9 555.3,207.9 556.3,207.9 557.3,207.9 558.3,207.9 559.3,207.8 560.3,207.8 561.3,207.8 562.3,207.7 563.3,207.7 564.3,207.6 565.3,207.5 566.3,207.4 567.3,207.4 568.3,207.2 569.3,207.1 570.3,207 571.3,206.8 572.3,206.6 573.3,206.4 574.3,206.1 575.3,205.9 576.3,205.6 577.3,205.2 578.3,204.9 579.3,204.5 580.3,204 581.3,203.5 582.3,203 583.3,202.4 584.3,201.8 585.3,201.1 586.3,200.4 587.3,199.7 588.3,198.9 589.3,198 590.3,197.2 591.3,196.3 592.3,195.3 593.3,194.3 594.3,193.3 595.3,192.3 596.3,191.3 597.3,190.2 598.3,189.2 599.3,188.1 600.3,187.1 601.3,186.1 602.3,185.1 603.3,184.2 604.3,183.3 605.3,182.5 606.3,181.7 607.3,181 608.3,180.4 609.3,179.9 610.3,179.4 611.3,179.1 612.3,178.8 613.3,178.7 614.3,178.6 615.3,178.6 616.3,178.8 617.3,179 618.3,179.4 619.3,179.8 620.3,180.3 621.3,180.9 622.3,181.6 623.3,182.3 624.3,183.2 625.3,184 626.3,184.9 627.3,185.9 628.3,186.9 629.3,187.9 630.3,189 631.3,190 632.3,191 633.3,192.1 634.3,193.1 635.3,194.1 636.3,195.1 637.3,196.1 638.3,197 639.3,197.9 640.3,198.7 641.3,199.5 642.3,200.3 643.3,201 644.3,201.7 645.3,202.3 646.3,202.9 647.3,203.4 648.3,203.9 649.3,204.4 650.3,204.8 651.3,205.2 652.3,205.5 653.3,205.8 654.3,206.1 655.3,206.3 656.3,206.6 657.3,206.8 658.3,206.9 659.3,207.1 660.3,207.2 661.3,207.3 662.3,207.4 663.3,207.5 664.3,207.6 665.3,207.7 666.3,207.7 667.3,207.8 668.3,207.8 669.3,207.8 670.3,207.9 671.3,207.9 672.3,207.9 673.3,207.9 674.3,207.9 674.6,207.9" class="r"/>
<path d="M614.4,174.6V182.6" class="m"/>
<path d="M394.3,208 602.3,208 603.3,207.9 604.3,207.9 605.3,207.9 606.3,207.9 607.3,207.9 608.3,207.8 609.3,207.8 610.3,207.8 611.3,207.7 612.3,207.7 613.3,207.6 614.3,207.5 615.3,207.4 616.3,207.3 617.3,207.2 618.3,207 619.3,206.8 620.3,206.7 621.3,206.4 622.3,206.2 623.3,205.9 624.3,205.6 625.3,205.3 626.3,205 627.3,204.6 628.3,204.2 629.3,203.8 630.3,203.3 631.3,202.8 632.3,202.3 633.3,201.8 634.3,201.2 635.3,200.7 636.3,200.1 637.3,199.6 638.3,199 639.3,198.5 640.3,198 641.3,197.4 642.3,197 643.3,196.5 644.3,196.1 645.3,195.8 646.3,195.5 647.3,195.2 648.3,195 649.3,194.9 650.3,194.8 651.3,194.8 652.3,194.9 653.3,195 654.3,195.2 655.3,195.4 656.3,195.7 657.3,196.1 658.3,196.5 659.3,196.9 660.3,197.4 661.3,197.9 662.3,198.4 663.3,198.9 664.3,199.5 665.3,200.1 666.3,200.6 667.3,201.2 668.3,201.7 669.3,202.2 670.3,202.7 671.3,203.2 672.3,203.7 673.3,204.1 674.3,204.5 674.6,204.7" class="r"/>
<path d="M650.9,190.8V198.8" class="m"/>
<path d="M394.3,207.3 394.4,206.1 394.4,204.8 394.5,203.6 394.5,202.3 394.6,201.1 394.6,199.9 394.7,198.6 394.7,197.4 394.8,196.1 394.8,194.9 394.9,193.6 395,192.4 395,191.2 395.1,189.9 395.1,188.7 395.2,187.4 395.2,186.2 395.3,185 395.3,183.7 395.4,182.5 395.4,181.2 395.5,180 395.6,178.8 395.6,177.5 395.7,176.3 395.7,175 395.8,173.7 395.8,172.4 395.9,171.1 395.9,169.8 396,168.4 396,167.1 396.1,165.8 396.1,164.4 396.2,163.1 396.3,161.7 396.3,160.4 396.4,159 396.4,157.7 396.5,156.4 396.5,155 396.6,153.7 396.6,152.4 396.7,151.1 396.7,149.8 396.8,148.5 396.8,147.2 396.9,146 396.9,144.8 397,143.5 397.1,142.3 397.1,141.2 397.2,140 397.2,138.9 397.3,137.8 397.3,136.7 397.4,135.7 397.4,134.6 397.5,133.6 397.5,132.7 397.6,131.7 397.6,130.9 397.7,130 397.8,128.4 397.9,126.9 398,125.4 398.1,124 398.2,122.7 398.3,121.4 398.4,120.1 398.5,118.9 398.6,117.7 398.7,116.6 398.9,115.5 399,114.3 399.1,113.2 399.2,112.1 399.3,111 399.4,109.8 399.5,108.7 399.6,107.5 399.7,106.3 399.8,105.1 399.9,103.8 400,102.6 400.1,101.4 400.2,100.2 400.3,98.9 400.4,97.7 400.5,96.4 400.6,95.1 400.7,93.9 400.8,92.6 400.9,91.3 401,90 401,88.7 401.1,87.4 401.2,86.2 401.3,84.9 401.4,83.6 401.5,82.4 401.6,81.2 401.7,79.9 401.8,78.7 401.9,77.5 402,76.4 402.1,75.2 402.2,73.9 402.3,72.6 402.4,71.2 402.5,69.9 402.7,68.6 402.8,67.2 402.9,65.9 403,64.6 403.1,63.3 403.2,62 403.3,60.8 403.4,59.5 403.5,58.3 403.6,57.2 403.8,56 403.9,54.9 404,53.8 404.1,52.8 404.2,51.8 404.3,50.9 404.5,49.4 404.7,47.9 404.9,46.4 405,45 405.2,43.6 405.4,42.3 405.6,41 405.8,39.9 405.9,38.8 406.1,37.9 406.3,37.1 406.5,36.5 407.3,34.3 408,32.7 408.8,32.1 409.5,32.7 410.3,34.3 411,36.5 411.2,37.1 411.3,38 411.5,39 411.7,40.1 411.8,41.3 412,42.7 412.2,44.1 412.4,45.6 412.5,47.1 412.7,48.7 412.9,50.2 413,51.7 413.2,53.1 413.3,54.3 413.5,55.5 413.6,56.8 413.8,58.1 413.9,59.5 414,60.8 414.2,62.2 414.3,63.6 414.4,65 414.6,66.3 414.7,67.6 414.8,68.8 415,69.9 415.1,71 415.3,72 415.4,72.9 415.7,74.6 415.9,76.3 416.2,78 416.5,79.6 416.8,80.9 417.1,82 417.3,82.7 417.6,82.9 419.2,82.6 420.9,81.8 421.2,81.4 421.5,80.7 421.8,79.7 422.1,78.5 422.4,77.1 422.7,75.6 423,74 423.3,72.5 423.6,71 423.9,69.6 424.2,68.5 424.6,67.1 425,65.6 425.4,64.2 425.9,62.9 426.3,61.6 426.7,60.5 427.1,59.4 427.5,58.6 428.6,56.6 429.7,54.9 430.8,53.6 431.9,53.1 433.5,53.4 435.2,54.2 436,55 436.9,56.2 437.7,57.9 438.5,59.7 438.9,60.7 439.2,61.9 439.6,63.2 439.9,64.6 440.3,66.1 440.7,67.5 441,68.9 441.4,70 441.9,71.4 442.4,72.8 443,74 443.5,75.2 444,76.3 444.6,77.5 445.1,78.6 445.6,79.8 446.1,81 446.7,82.2 447.2,83.4 447.7,84.6 448.2,85.8 448.8,87 449.3,88.3 449.8,89.6 450.2,90.7 450.7,91.8 451.1,93 451.6,94.2 452,95.4 452.4,96.7 452.9,98 453.3,99.5 453.6,100.6 453.9,101.7 454.2,103 454.5,104.3 454.7,105.6 455,106.9 455.3,108.1 455.6,109.3 456,110.7 456.3,112.1 456.6,113.4 457,114.8 457.4,116 457.7,117.2 458,118.2 458.4,119.1 459.2,120.7 460,122.1 460.8,123.3 461.6,124.4 462.4,125.4 463.5,127 464.6,128.6 465.8,130.1 466.9,131.2 468,131.7 469.2,131.9 470.4,132 471.6,132.1 472.9,132.1 474.1,132.2 475.3,132.3 476.5,132.4 477.9,132.6 479.3,132.9 480.7,133.3 482.1,133.8 483.5,134.4 484.9,135.1 486.3,136 487.7,137 489.1,138.1 490.3,139.1 491.5,140.3 492.7,141.6 493.9,142.9 495.1,144.2 496.3,145.5 497.5,146.9 498.7,148.2 499.9,149.4 501.1,150.2 502.3,150.8 503.5,151.3 504.7,151.8 505.9,152.1 507.1,152.2 508.3,152 509.5,151.6 510.8,151.1 512,150.6 513.2,150.2 514.4,149.9 515.6,149.7 516.8,149.4 518,149.3 519.2,149.2 520.4,149.4 521.6,149.9 522.8,150.6 524,151.4 525.2,152.2 526.4,153 527.6,154 528.8,155.1 530,156.1 531.2,157.2 532.7,158.5 534.1,159.8 535.6,161 537,162 538.4,163 539.8,164 541.2,165.2 542.3,166.4 543.4,167.9 544.6,169.5 545.7,170.9 546.8,172.2 548.2,173.6 549.6,174.9 551,176 552.4,176.7 553.8,177.2 555.2,177.5 556.6,177.8 558,177.9 559.4,177.7 560.8,177.3 562.2,176.7 563.6,176.1 565,175.7 566.4,175.3 567.8,175 569.3,174.6 570.7,174.4 572.1,174.3 573.5,174.4 574.9,174.8 576.3,175.4 577.7,176 579.1,176.7 580.5,177.5 581.9,178.4 583.3,179.5 584.7,180.5 586.1,181.4 587.5,182.3 588.9,183.3 590.3,184.2 591.7,184.8 593.1,185.1 594.5,185 595.9,184.8 597.3,184.4 598.7,184 600.1,183.5 601.5,182.9 602.9,182 604.3,181.1 605.7,180.2 607.1,179.5 608.5,179 609.9,178.5 611.3,178 612.7,177.7 614.1,177.6 615.5,177.7 616.9,177.9 618.2,178.3 619.6,178.8 621,179.3 622.4,179.8 623.6,180.4 624.9,181.2 626.1,182.1 627.4,182.9 628.6,183.6 629.9,184.1 631.1,184.6 632.4,185 633.6,185.4 634.9,185.8 636.1,186.1 637.4,186.4 638.6,186.7 639.9,187 641.1,187.3 642.3,187.7 643.6,188.1 644.8,188.5 646.1,189 647.3,189.5 648.5,190.1 649.8,190.8 651,191.5 652.3,192.2 653.5,192.9 654.7,193.5 656,194.1 657.2,194.7 658.5,195.4 659.7,196 661,196.7 662.2,197.4 663.5,198.2 664.7,198.9 666,199.7 667.2,200.5 668.5,201.2 669.7,202 671,202.8 672.2,203.5 674.4,204.7" class="k"/>
<path d="M394.3,180.5 394.4,179.2 394.5,177.8 394.5,176.5 394.6,175.2 394.7,173.9 394.8,172.5 394.9,171.2 394.9,169.9 395,168.7 395.1,167.4 395.2,166.1 395.3,164.8 395.4,163.6 395.4,162.3 395.5,161.1 395.6,159.8 395.7,158.6 395.8,157.4 395.8,156.2 395.9,155 396,153.8 396.1,152.6 396.2,151.4 396.2,150.2 396.3,149 396.4,147.8 396.5,146.7 396.6,145.5 396.6,144.4 396.7,143.2 396.8,142.1 396.9,140.9 397,139.8 397.1,138.7 397.1,137.6 397.2,136.5 397.3,135.4 397.4,134.3 397.5,133.2 397.5,132.1 397.6,131.1 397.7,130 397.8,128.6 397.9,127.3 398,126 398.1,124.7 398.2,123.4 398.3,122.2 398.4,121 398.5,119.7 398.6,118.5 398.7,117.3 398.9,116.1 399,114.9 399.1,113.7 399.2,112.5 399.3,111.3 399.4,110.1 399.5,108.9 399.6,107.6 399.7,106.4 399.8,105.1 399.9,103.8 400,102.6 400.1,101.4 400.2,100.2 400.3,98.9 400.4,97.7 400.5,96.4 400.6,95.1 400.7,93.9 400.8,92.6 400.9,91.3 401,90 401,88.7 401.1,87.4 401.2,86.2 401.3,84.9 401.4,83.6 401.5,82.4 401.6,81.2 401.7,79.9 401.8,78.7 401.9,77.5 402,76.4 402.1,75.2 402.2,73.9 402.3,72.6 402.4,71.2 402.5,69.9 402.7,68.6 402.8,67.2 402.9,65.9 403,64.6 403.1,63.3 403.2,62 403.3,60.8 403.4,59.5 403.5,58.3 403.6,57.2 403.8,56 403.9,54.9 404,53.8 404.1,52.8 404.2,51.8 404.3,50.9 404.5,49.4 404.7,47.9 404.9,46.4 405,45 405.2,43.6 405.4,42.3 405.6,41 405.8,39.9 405.9,38.8 406.1,37.9 406.3,37.1 406.5,36.5 407.3,34.3 408,32.7 408.8,32.1 409.5,32.7 410.3,34.3 411,36.5 411.2,37.1 411.3,38 411.5,39 411.7,40.1 411.8,41.3 412,42.7 412.2,44.1 412.4,45.6 412.5,47.1 412.7,48.7 412.9,50.2 413,51.7 413.2,53.1 413.3,54.3 413.5,55.5 413.6,56.8 413.8,58.1 413.9,59.5 414,60.8 414.2,62.2 414.3,63.6 414.4,65 414.6,66.3 414.7,67.6 414.8,68.8 415,69.9 415.1,71 415.3,72 415.4,72.9 415.7,74.6 415.9,76.3 416.2,78 416.5,79.6 416.8,80.9 417.1,82 417.3,82.7 417.6,82.9 419.2,82.6 420.9,81.8 421.2,81.4 421.5,80.7 421.8,79.7 422.1,78.5 422.4,77.1 422.7,75.6 423,74 423.3,72.5 423.6,71 423.9,69.6 424.2,68.5 424.6,67.1 425,65.6 425.4,64.2 425.9,62.9 426.3,61.6 426.7,60.5 427.1,59.4 427.5,58.6 428.6,56.6 429.7,54.9 430.8,53.6 431.9,53.1 433.5,53.4 435.2,54.2 436,55 436.9,56.2 437.7,57.9 438.5,59.7 438.9,60.7 439.2,61.9 439.6,63.2 439.9,64.6 440.3,66.1 440.7,67.5 441,68.9 441.4,70 441.9,71.4 442.4,72.8 443,74 443.5,75.2 444,76.3 444.6,77.5 445.1,78.6 445.6,79.8 446.1,81 446.7,82.2 447.2,83.4 447.7,84.6 448.2,85.8 448.8,87 449.3,88.3 449.8,89.6 450.2,90.7 450.7,91.8 451.1,93 451.6,94.2 452,95.4 452.4,96.7 452.9,98 453.3,99.5 453.6,100.6 453.9,101.7 454.2,103 454.5,104.3 454.7,105.6 455,106.9 455.3,108.1 455.6,109.3 456,110.7 456.3,112.1 456.6,113.4 457,114.8 457.4,116 457.7,117.2 458,118.2 458.4,119.1 459.2,120.7 460,122.1 460.8,123.3 461.6,124.4 462.4,125.4 463.5,127 464.6,128.6 465.8,130.1 466.9,131.2 468,131.7 469.2,131.9 470.4,132 471.6,132.1 472.9,132.1 474.1,132.2 475.3,132.3 476.5,132.4 477.9,132.6 479.3,132.9 480.7,133.3 482.1,133.8 483.5,134.4 484.9,135.1 486.3,136 487.7,137 489.1,138.1 490.3,139.1 491.5,140.3 492.7,141.6 493.9,142.9 495.1,144.2 496.3,145.5 497.5,146.9 498.7,148.2 499.9,149.4 501.1,150.2 502.3,150.8 503.5,151.3 504.7,151.8 505.9,152.1 507.1,152.2 508.3,152 509.5,151.6 510.8,151.1 512,150.6 513.2,150.2 514.4,149.9 515.6,149.7 516.8,149.4 518,149.3 519.2,149.2 520.4,149.4 521.6,149.9 522.8,150.6 524,151.4 525.2,152.2 526.4,153 527.6,154 528.8,155.1 530,156.1 531.2,157.2 532.7,158.5 534.1,159.8 535.6,161 537,162 538.4,163 539.8,164 541.2,165.2 542.3,166.4 543.4,167.9 544.6,169.5 545.7,170.9 546.8,172.2 548.2,173.6 549.6,174.9 551,176 552.4,176.7 553.8,177.2 555.2,177.5 556.6,177.8 558,177.9 559.4,177.7 560.8,177.3 562.2,176.7 563.6,176.1 565,175.7 566.4,175.3 567.8,175 569.3,174.6 570.7,174.4 572.1,174.3 573.5,174.4 574.9,174.8 576.3,175.4 577.7,176 579.1,176.7 580.5,177.5 581.9,178.4 583.3,179.5 584.7,180.5 586.1,181.4 587.5,182.3 588.9,183.3 590.3,184.2 591.7,184.8 593.1,185.1 594.5,185 595.9,184.8 597.3,184.4 598.7,184 600.1,183.5 601.5,182.9 602.9,182 604.3,181.1 605.7,180.2 607.1,179.5 608.5,179 609.9,178.5 611.3,178 612.7,177.7 614.1,177.6 615.5,177.7 616.9,177.9 618.2,178.3 619.6,178.8 621,179.3 622.4,179.8 623.6,180.4 624.9,181.2 626.1,182.1 627.4,182.9 628.6,183.6 629.9,184.1 631.1,184.6 632.4,185 633.6,185.4 634.9,185.8 636.1,186.1 637.4,186.4 638.6,186.7 639.9,187 641.1,187.3 642.3,187.7 643.6,188.1 644.8,188.5 646.1,189 647.3,189.5 648.5,190.1 649.8,190.8 651,191.5 652.3,192.2 653.5,192.9 654.7,193.5 656,194.1 657.2,194.7 658.5,195.4 659.7,196 661,196.7 662.2,197.4 663.5,198.2 664.7,198.9 666,199.7 667.2,200.5 668.5,201.2 669.7,202 671,202.8 672.2,203.5 674.4,204.7" class="b" transform="translate(-0.6,0)"/>
<rect x="390.3" y="4.3" width="284.3" height="205.7" class="fr"/>
<path d="M400.1,210V206.4" class="t"/>
<text x="400.1" y="222.8" text-anchor="middle" font-size="10.9">200</text>
<path d="M419.7,210V208" class="t"/>
<path d="M439.3,210V206.4" class="t"/>
<text x="439.3" y="222.8" text-anchor="middle" font-size="10.9">400</text>
<path d="M458.9,210V208" class="t"/>
<path d="M478.5,210V206.4" class="t"/>
<text x="478.5" y="222.8" text-anchor="middle" font-size="10.9">600</text>
<path d="M498.1,210V208" class="t"/>
<path d="M517.7,210V206.4" class="t"/>
<text x="517.7" y="222.8" text-anchor="middle" font-size="10.9">800</text>
<path d="M537.4,210V208" class="t"/>
<path d="M557,210V206.4" class="t"/>
<text x="557" y="222.8" text-anchor="middle" font-size="10.9">1000</text>
<path d="M576.6,210V208" class="t"/>
<path d="M596.2,210V206.4" class="t"/>
<text x="596.2" y="222.8" text-anchor="middle" font-size="10.9">1200</text>
<path d="M615.8,210V208" class="t"/>
<path d="M635.4,210V206.4" class="t"/>
<text x="635.4" y="222.8" text-anchor="middle" font-size="10.9">1400</text>
<path d="M655,210V208" class="t"/>
<path d="M674.6,210V206.4" class="t"/>
<text x="674.6" y="222.8" text-anchor="middle" font-size="10.9">1600</text>
<path d="M390.3,18.3H392.3" class="t"/>
<path d="M390.3,32.7H393.9" class="t"/>
<path d="M390.3,47.2H392.3" class="t"/>
<path d="M390.3,61.6H393.9" class="t"/>
<path d="M390.3,76.1H392.3" class="t"/>
<path d="M390.3,90.5H393.9" class="t"/>
<path d="M390.3,105H392.3" class="t"/>
<path d="M390.3,119.4H393.9" class="t"/>
<path d="M390.3,133.9H392.3" class="t"/>
<path d="M390.3,148.3H393.9" class="t"/>
<path d="M390.3,162.8H392.3" class="t"/>
<path d="M390.3,177.2H393.9" class="t"/>
<path d="M390.3,191.6H392.3" class="t"/>
<path d="M390.3,206.1H393.9" class="t"/>
<text x="401" y="27.4" font-size="10">235</text>
<text x="423.9" y="81.5" font-size="10">339</text>
<text x="437" y="109.1" font-size="10">426</text>
<text x="455.9" y="154.9" font-size="10">523</text>
<text x="475" y="152.6" font-size="10">622</text>
<text x="492.4" y="170.2" font-size="10">709</text>
<text x="513.8" y="163.4" font-size="10">813</text>
<text x="530.1" y="175.1" font-size="10">918</text>
<text x="561.9" y="171.4" font-size="10">1077</text>
<text x="604.4" y="173.7" font-size="10">1293</text>
<text x="641.1" y="188.8" font-size="10">1479</text>
<rect x="558.3" y="7.4" width="111.4" height="38.6" class="lg"/>
<path d="M558.6,14.7H582.6" class="kl"/>
<path d="M558.6,26.9H582.6" class="bl"/>
<text x="584.8" y="18.1" font-size="10">Actual Spectra</text>
<text x="584.8" y="30.7" font-size="10">Cumulative Fit Peak</text>
<text x="560" y="42.5" font-size="10">BZNNi1</text>
<text x="481.8" y="236.8" font-size="12.9">Raman Shift (cm<tspan font-size="8" dy="-5.4">-1</tspan><tspan dy="5.4">)</tspan></text>
<text transform="translate(380.8,147.7) rotate(-90)" font-size="12.66">Intensity (A. U.)</text>
<path d="M21.5,442.1 22.5,434.1 23.5,424.4 24.5,413.3 25.5,400.8 26.5,387.3 27.5,373.3 28.5,359.3 29.5,346 30.5,334.1 31.5,324.4 32.5,317.4 33.5,313.6 34.5,313.3 35.5,316.4 36.5,322.8 37.5,332.1 38.5,343.6 39.5,356.6 40.5,370.6 41.5,384.6 42.5,398.3 43.5,411 44.5,422.4 45.5,432.3 46.5,440.7 47.5,447.6 48.5,453 49.5,457.2 50.5,460.4 51.5,462.7 52.5,464.4 53.5,465.5 54.5,466.3 55.5,466.8 56.5,467.2 57.5,467.4 58.5,467.5 59.5,467.6 60.5,467.6 61.5,467.7 309.3,467.7" class="r"/>
<path d="M34.1,309V317" class="m"/>
<path d="M21.5,466.7 22.5,466.3 23.5,465.7 24.5,465 25.5,464.1 26.5,463 27.5,461.5 28.5,459.8 29.5,457.6 30.5,455 31.5,452 32.5,448.5 33.5,444.5 34.5,440.1 35.5,435.2 36.5,429.9 37.5,424.3 38.5,418.6 39.5,412.7 40.5,407 41.5,401.5 42.5,396.4 43.5,392 44.5,388.2 45.5,385.4 46.5,383.5 47.5,382.6 48.5,382.9 49.5,384.2 50.5,386.5 51.5,389.8 52.5,393.9 53.5,398.7 54.5,403.9 55.5,409.5 56.5,415.3 57.5,421.2 58.5,426.9 59.5,432.3 60.5,437.4 61.5,442.1 62.5,446.4 63.5,450.1 64.5,453.4 65.5,456.2 66.5,458.6 67.5,460.6 68.5,462.2 69.5,463.5 70.5,464.5 71.5,465.4 72.5,466 73.5,466.5 74.5,466.8 75.5,467.1 76.5,467.3 77.5,467.4 78.5,467.5 79.5,467.6 80.5,467.6 81.5,467.6 82.5,467.7 309.3,467.7" class="r"/>
<path d="M47.8,378.6V386.6" class="m"/>
<path d="M21.5,467.7 32.5,467.7 33.5,467.6 34.5,467.6 35.5,467.5 36.5,467.4 37.5,467.2 38.5,466.9 39.5,466.6 40.5,466 41.5,465.3 42.5,464.3 43.5,463 44.5,461.2 45.5,459 46.5,456.2 47.5,452.8 48.5,448.7 49.5,443.8 50.5,438.3 51.5,432 52.5,425.2 53.5,417.9 54.5,410.3 55.5,402.7 56.5,395.4 57.5,388.5 58.5,382.6 59.5,377.7 60.5,374.1 61.5,372.1 62.5,371.6 63.5,372.9 64.5,375.6 65.5,379.9 66.5,385.3 67.5,391.7 68.5,398.8 69.5,406.3 70.5,413.9 71.5,421.4 72.5,428.5 73.5,435.1 74.5,441 75.5,446.3 76.5,450.7 77.5,454.5 78.5,457.6 79.5,460.1 80.5,462.1 81.5,463.7 82.5,464.8 83.5,465.7 84.5,466.3 85.5,466.8 86.5,467.1 87.5,467.3 88.5,467.4 89.5,467.5 90.5,467.6 91.5,467.6 92.5,467.7 309.3,467.7" class="r"/>
<path d="M62.3,367.6V375.6" class="m"/>
<path d="M21.5,467.7 44.5,467.7 45.5,467.6 46.5,467.6 47.5,467.5 48.5,467.5 49.5,467.4 50.5,467.2 51.5,467 52.5,466.7 53.5,466.2 54.5,465.7 55.5,464.9 56.5,464 57.5,462.7 58.5,461.2 59.5,459.2 60.5,456.9 61.5,454.1 62.5,450.9 63.5,447.2 64.5,442.9 65.5,438.3 66.5,433.2 67.5,427.8 68.5,422.2 69.5,416.6 70.5,411 71.5,405.8 72.5,400.9 73.5,396.8 74.5,393.3 75.5,390.9 76.5,389.4 77.5,389 78.5,389.7 79.5,391.5 80.5,394.3 81.5,398 82.5,402.4 83.5,407.3 84.5,412.7 85.5,418.3 86.5,423.9 87.5,429.5 88.5,434.8 89.5,439.7 90.5,444.3 91.5,448.3 92.5,451.9 93.5,455 94.5,457.7 95.5,459.9 96.5,461.7 97.5,463.1 98.5,464.3 99.5,465.2 100.5,465.9 101.5,466.4 102.5,466.8 103.5,467 104.5,467.2 105.5,467.4 106.5,467.5 107.5,467.6 108.5,467.6 109.5,467.6 110.5,467.7 309.3,467.7" class="r"/>
<path d="M77.3,385V393" class="m"/>
<path d="M21.5,467.7 59.5,467.7 60.5,467.6 61.5,467.6 62.5,467.6 63.5,467.5 64.5,467.4 65.5,467.3 66.5,467.2 67.5,467 68.5,466.7 69.5,466.3 70.5,465.8 71.5,465.2 72.5,464.4 73.5,463.4 74.5,462.2 75.5,460.8 76.5,459.1 77.5,457.1 78.5,454.9 79.5,452.3 80.5,449.5 81.5,446.4 82.5,443.1 83.5,439.6 84.5,436.1 85.5,432.6 86.5,429.2 87.5,426 88.5,423.2 89.5,420.7 90.5,418.7 91.5,417.3 92.5,416.5 93.5,416.3 94.5,416.8 95.5,417.9 96.5,419.7 97.5,421.9 98.5,424.6 99.5,427.7 100.5,431 101.5,434.4 102.5,438 103.5,441.4 104.5,444.8 105.5,448 106.5,451 107.5,453.7 108.5,456.1 109.5,458.2 110.5,460 111.5,461.6 112.5,462.9 113.5,464 114.5,464.8 115.5,465.5 116.5,466.1 117.5,466.5 118.5,466.8 119.5,467.1 120.5,467.3 121.5,467.4 122.5,467.5 123.5,467.6 124.5,467.6 125.5,467.6 126.5,467.7 309.3,467.7" class="r"/>
<path d="M93.2,412.3V420.3" class="m"/>
<path d="M21.5,467.7 73.5,467.7 74.5,467.6 75.5,467.6 76.5,467.6 77.5,467.5 78.5,467.5 79.5,467.4 80.5,467.2 81.5,467.1 82.5,466.9 83.5,466.6 84.5,466.2 85.5,465.7 86.5,465.1 87.5,464.4 88.5,463.5 89.5,462.4 90.5,461.2 91.5,459.7 92.5,458 93.5,456 94.5,453.8 95.5,451.4 96.5,448.8 97.5,446 98.5,443.1 99.5,440 100.5,437 101.5,434 102.5,431.1 103.5,428.4 104.5,426 105.5,424 106.5,422.3 107.5,421.1 108.5,420.4 109.5,420.2 110.5,420.6 111.5,421.4 112.5,422.8 113.5,424.6 114.5,426.8 115.5,429.3 116.5,432.1 117.5,435 118.5,438 119.5,441.1 120.5,444 121.5,446.9 122.5,449.7 123.5,452.2 124.5,454.6 125.5,456.7 126.5,458.6 127.5,460.2 128.5,461.6 129.5,462.8 130.5,463.8 131.5,464.7 132.5,465.3 133.5,465.9 134.5,466.3 135.5,466.7 136.5,466.9 137.5,467.1 138.5,467.3 139.5,467.4 140.5,467.5 141.5,467.6 142.5,467.6 143.5,467.6 144.5,467.7 309.3,467.7" class="r"/>
<path d="M109.3,416.2V424.2" class="m"/>
<path d="M21.5,467.7 89.5,467.7 90.5,467.6 91.5,467.6 92.5,467.6 93.5,467.5 94.5,467.4 95.5,467.4 96.5,467.2 97.5,467 98.5,466.8 99.5,466.5 100.5,466.2 101.5,465.7 102.5,465.1 103.5,464.4 104.5,463.6 105.5,462.5 106.5,461.3 107.5,459.9 108.5,458.3 109.5,456.4 110.5,454.4 111.5,452.1 112.5,449.7 113.5,447.1 114.5,444.3 115.5,441.5 116.5,438.7 117.5,435.8 118.5,433.1 119.5,430.6 120.5,428.3 121.5,426.3 122.5,424.6 123.5,423.4 124.5,422.6 125.5,422.3 126.5,422.5 127.5,423.1 128.5,424.3 129.5,425.8 130.5,427.7 131.5,430 132.5,432.5 133.5,435.1 134.5,437.9 135.5,440.8 136.5,443.6 137.5,446.4 138.5,449 139.5,451.5 140.5,453.8 141.5,455.9 142.5,457.8 143.5,459.5 144.5,461 145.5,462.2 146.5,463.3 147.5,464.2 148.5,465 149.5,465.6 150.5,466.1 151.5,466.4 152.5,466.8 153.5,467 154.5,467.2 155.5,467.3 156.5,467.4 157.5,467.5 158.5,467.6 159.5,467.6 160.5,467.6 161.5,467.7 309.3,467.7" class="r"/>
<path d="M125.6,418.3V426.3" class="m"/>
<path d="M21.5,467.7 110.5,467.7 111.5,467.6 112.5,467.6 113.5,467.6 114.5,467.5 115.5,467.4 116.5,467.3 117.5,467.2 118.5,467 119.5,466.8 120.5,466.5 121.5,466.1 122.5,465.6 123.5,465.1 124.5,464.4 125.5,463.6 126.5,462.6 127.5,461.5 128.5,460.2 129.5,458.7 130.5,457 131.5,455.2 132.5,453.2 133.5,451.1 134.5,448.8 135.5,446.5 136.5,444.2 137.5,441.9 138.5,439.6 139.5,437.5 140.5,435.6 141.5,433.9 142.5,432.5 143.5,431.5 144.5,430.8 145.5,430.5 146.5,430.6 147.5,431.1 148.5,432 149.5,433.2 150.5,434.7 151.5,436.5 152.5,438.6 153.5,440.8 154.5,443 155.5,445.4 156.5,447.7 157.5,450 158.5,452.1 159.5,454.2 160.5,456.1 161.5,457.9 162.5,459.4 163.5,460.8 164.5,462.1 165.5,463.1 166.5,464 167.5,464.8 168.5,465.4 169.5,465.9 170.5,466.3 171.5,466.6 172.5,466.9 173.5,467.1 174.5,467.3 175.5,467.4 176.5,467.5 177.5,467.5 178.5,467.6 179.5,467.6 180.5,467.6 181.5,467.7 309.3,467.7" class="r"/>
<path d="M145.7,426.5V434.5" class="m"/>
<path d="M21.5,467.7 122.5,467.7 123.5,467.6 124.5,467.6 125.5,467.6 126.5,467.6 127.5,467.5 128.5,467.5 129.5,467.4 130.5,467.3 131.5,467.2 132.5,467 133.5,466.8 134.5,466.6 135.5,466.3 136.5,466 137.5,465.6 138.5,465.1 139.5,464.5 140.5,463.9 141.5,463.2 142.5,462.3 143.5,461.4 144.5,460.4 145.5,459.2 146.5,458 147.5,456.7 148.5,455.4 149.5,454 150.5,452.5 151.5,451 152.5,449.6 153.5,448.2 154.5,446.8 155.5,445.6 156.5,444.5 157.5,443.5 158.5,442.7 159.5,442.1 160.5,441.7 161.5,441.5 162.5,441.5 163.5,441.8 164.5,442.3 165.5,442.9 166.5,443.8 167.5,444.8 168.5,446 169.5,447.3 170.5,448.6 171.5,450.1 172.5,451.5 173.5,453 174.5,454.4 175.5,455.8 176.5,457.2 177.5,458.4 178.5,459.6 179.5,460.7 180.5,461.7 181.5,462.6 182.5,463.4 183.5,464.1 184.5,464.7 185.5,465.3 186.5,465.7 187.5,466.1 188.5,466.4 189.5,466.7 190.5,466.9 191.5,467.1 192.5,467.2 193.5,467.3 194.5,467.4 195.5,467.5 196.5,467.5 197.5,467.6 198.5,467.6 199.5,467.6 200.5,467.7 309.3,467.7" class="r"/>
<path d="M161.8,437.5V445.5" class="m"/>
<path d="M21.5,467.7 134.5,467.7 135.5,467.6 136.5,467.6 137.5,467.6 138.5,467.6 139.5,467.5 140.5,467.5 141.5,467.5 142.5,467.4 143.5,467.3 144.5,467.2 145.5,467.1 146.5,467 147.5,466.8 148.5,466.6 149.5,466.4 150.5,466.2 151.5,465.9 152.5,465.6 153.5,465.2 154.5,464.8 155.5,464.3 156.5,463.8 157.5,463.2 158.5,462.5 159.5,461.8 160.5,461.1 161.5,460.3 162.5,459.4 163.5,458.5 164.5,457.5 165.5,456.6 166.5,455.6 167.5,454.5 168.5,453.5 169.5,452.5 170.5,451.5 171.5,450.6 172.5,449.7 173.5,448.8 174.5,448.1 175.5,447.4 176.5,446.8 177.5,446.4 178.5,446 179.5,445.8 180.5,445.7 181.5,445.7 182.5,445.9 183.5,446.2 184.5,446.6 185.5,447.1 186.5,447.7 187.5,448.4 188.5,449.2 189.5,450.1 190.5,451 191.5,452 192.5,453 193.5,454 194.5,455 195.5,456.1 196.5,457 197.5,458 198.5,458.9 199.5,459.8 200.5,460.7 201.5,461.5 202.5,462.2 203.5,462.9 204.5,463.5 205.5,464 206.5,464.5 207.5,465 208.5,465.4 209.5,465.7 210.5,466 211.5,466.3 212.5,466.5 213.5,466.7 214.5,466.9 215.5,467.1 216.5,467.2 217.5,467.3 218.5,467.4 219.5,467.4 220.5,467.5 221.5,467.5 222.5,467.6 223.5,467.6 224.5,467.6 225.5,467.6 226.5,467.7 309.3,467.7" class="r"/>
<path d="M180.8,441.7V449.7" class="m"/>
<path d="M21.5,467.7 167.5,467.7 168.5,467.6 169.5,467.6 170.5,467.6 171.5,467.6 172.5,467.5 173.5,467.5 174.5,467.4 175.5,467.3 176.5,467.2 177.5,467.1 178.5,466.9 179.5,466.7 180.5,466.4 181.5,466.1 182.5,465.8 183.5,465.4 184.5,464.9 185.5,464.4 186.5,463.8 187.5,463.1 188.5,462.4 189.5,461.6 190.5,460.7 191.5,459.8 192.5,458.8 193.5,457.8 194.5,456.8 195.5,455.7 196.5,454.7 197.5,453.7 198.5,452.8 199.5,451.9 200.5,451.1 201.5,450.4 202.5,449.9 203.5,449.5 204.5,449.2 205.5,449.1 206.5,449.2 207.5,449.4 208.5,449.7 209.5,450.2 210.5,450.8 211.5,451.6 212.5,452.4 213.5,453.3 214.5,454.3 215.5,455.3 216.5,456.4 217.5,457.4 218.5,458.4 219.5,459.4 220.5,460.4 221.5,461.2 222.5,462.1 223.5,462.8 224.5,463.5 225.5,464.2 226.5,464.7 227.5,465.2 228.5,465.6 229.5,466 230.5,466.3 231.5,466.6 232.5,466.8 233.5,467 234.5,467.1 235.5,467.3 236.5,467.4 237.5,467.4 238.5,467.5 239.5,467.6 240.5,467.6 241.5,467.6 242.5,467.6 243.5,467.7 309.3,467.7" class="r"/>
<path d="M205.7,445.1V453.1" class="m"/>
<path d="M21.5,467.7 194.5,467.7 195.5,467.6 196.5,467.6 197.5,467.6 198.5,467.6 199.5,467.5 200.5,467.5 201.5,467.4 202.5,467.3 203.5,467.2 204.5,467 205.5,466.9 206.5,466.7 207.5,466.5 208.5,466.2 209.5,465.9 210.5,465.6 211.5,465.2 212.5,464.7 213.5,464.3 214.5,463.8 215.5,463.2 216.5,462.7 217.5,462.1 218.5,461.5 219.5,460.9 220.5,460.3 221.5,459.8 222.5,459.2 223.5,458.7 224.5,458.3 225.5,458 226.5,457.7 227.5,457.5 228.5,457.4 229.5,457.4 230.5,457.5 231.5,457.7 232.5,458 233.5,458.3 234.5,458.7 235.5,459.2 236.5,459.7 237.5,460.3 238.5,460.9 239.5,461.5 240.5,462.1 241.5,462.6 242.5,463.2 243.5,463.7 244.5,464.2 245.5,464.7 246.5,465.1 247.5,465.5 248.5,465.9 249.5,466.2 250.5,466.4 251.5,466.7 252.5,466.9 253.5,467 254.5,467.2 255.5,467.3 256.5,467.4 257.5,467.4 258.5,467.5 259.5,467.6 260.5,467.6 261.5,467.6 262.5,467.6 263.5,467.7 309.3,467.7" class="r"/>
<path d="M229,453.4V461.4" class="m"/>
<path d="M21.5,467.7 198.5,467.7 199.5,467.6 200.5,467.6 201.5,467.6 202.5,467.6 203.5,467.6 204.5,467.5 205.5,467.5 206.5,467.5 207.5,467.4 208.5,467.3 209.5,467.3 210.5,467.2 211.5,467.1 212.5,467 213.5,466.9 214.5,466.7 215.5,466.6 216.5,466.4 217.5,466.2 218.5,465.9 219.5,465.7 220.5,465.4 221.5,465.1 222.5,464.7 223.5,464.4 224.5,463.9 225.5,463.5 226.5,463 227.5,462.5 228.5,462 229.5,461.4 230.5,460.8 231.5,460.2 232.5,459.5 233.5,458.9 234.5,458.2 235.5,457.5 236.5,456.8 237.5,456.1 238.5,455.4 239.5,454.8 240.5,454.1 241.5,453.5 242.5,452.9 243.5,452.3 244.5,451.8 245.5,451.4 246.5,451 247.5,450.7 248.5,450.4 249.5,450.2 250.5,450.1 251.5,450 252.5,450 253.5,450.1 254.5,450.3 255.5,450.5 256.5,450.8 257.5,451.2 258.5,451.6 259.5,452.1 260.5,452.6 261.5,453.2 262.5,453.8 263.5,454.4 264.5,455.1 265.5,455.8 266.5,456.4 267.5,457.1 268.5,457.8 269.5,458.5 270.5,459.2 271.5,459.8 272.5,460.5 273.5,461.1 274.5,461.7 275.5,462.2 276.5,462.8 277.5,463.2 278.5,463.7 279.5,464.1 280.5,464.5 281.5,464.9 282.5,465.2 283.5,465.5 284.5,465.8 285.5,466 286.5,466.3 287.5,466.5 288.5,466.6 289.5,466.8 290.5,466.9 291.5,467 292.5,467.1 293.5,467.2 294.5,467.3 295.5,467.4 296.5,467.4 297.5,467.5 298.5,467.5 299.5,467.5 300.5,467.6 301.5,467.6 302.5,467.6 303.5,467.6 304.5,467.6 305.5,467.7 309.3,467.7" class="r"/>
<path d="M251.8,446V454" class="m"/>
<path d="M21.5,467.7 217.5,467.7 218.5,467.6 219.5,467.6 220.5,467.6 221.5,467.6 222.5,467.6 223.5,467.6 224.5,467.6 225.5,467.5 226.5,467.5 227.5,467.5 228.5,467.5 229.5,467.4 230.5,467.4 231.5,467.3 232.5,467.3 233.5,467.2 234.5,467.2 235.5,467.1 236.5,467 237.5,466.9 238.5,466.8 239.5,466.7 240.5,466.6 241.5,466.5 242.5,466.4 243.5,466.2 244.5,466.1 245.5,465.9 246.5,465.8 247.5,465.6 248.5,465.4 249.5,465.2 250.5,465 251.5,464.8 252.5,464.6 253.5,464.3 254.5,464.1 255.5,463.8 256.5,463.6 257.5,463.3 258.5,463.1 259.5,462.8 260.5,462.5 261.5,462.3 262.5,462 263.5,461.8 264.5,461.5 265.5,461.3 266.5,461 267.5,460.8 268.5,460.6 269.5,460.4 270.5,460.2 271.5,460 272.5,459.9 273.5,459.8 274.5,459.6 275.5,459.5 276.5,459.5 277.5,459.4 278.5,459.4 279.5,459.4 280.5,459.4 281.5,459.5 282.5,459.5 283.5,459.6 284.5,459.7 285.5,459.8 286.5,460 287.5,460.2 288.5,460.3 289.5,460.5 290.5,460.7 291.5,461 292.5,461.2 293.5,461.4 294.5,461.7 295.5,462 296.5,462.2 297.5,462.5 298.5,462.7 299.5,463 300.5,463.3 301.5,463.5 302.5,463.8 303.5,464 304.5,464.3 305.5,464.5 306.5,464.7 307.5,464.9 308.5,465.2 309.3,465.3" class="r"/>
<path d="M279.1,455.4V463.4" class="m"/>
<path d="M21.5,466 21.6,464.8 21.6,463.6 21.7,462.5 21.7,461.3 21.8,460.1 21.9,458.9 21.9,457.7 22,456.4 22.1,455.2 22.1,454 22.2,452.8 22.2,451.5 22.3,450.3 22.4,449 22.4,447.7 22.5,446.5 22.6,445.2 22.6,443.9 22.7,442.6 22.7,441.3 22.8,440 22.9,438.9 22.9,437.8 23,436.6 23,435.4 23.1,434.3 23.1,433.1 23.2,431.8 23.2,430.6 23.3,429.4 23.3,428.1 23.4,426.9 23.4,425.6 23.5,424.3 23.5,423.1 23.6,421.8 23.6,420.5 23.7,419.2 23.7,417.9 23.8,416.6 23.8,415.3 23.9,414 23.9,412.7 24,411.4 24,410.1 24.1,408.8 24.2,407.5 24.2,406.2 24.3,404.9 24.3,403.6 24.4,402.4 24.4,401.1 24.5,399.8 24.5,398.6 24.6,397.4 24.6,396.2 24.7,395 24.7,393.8 24.8,392.6 24.8,391.4 24.9,390.3 24.9,389.2 25,388.1 25,387 25.1,385.9 25.1,384.9 25.2,383.8 25.2,382.8 25.3,381.9 25.3,380.9 25.4,380 25.5,378.6 25.6,377.2 25.6,375.8 25.7,374.5 25.8,373.2 25.9,371.9 26,370.7 26.1,369.5 26.1,368.3 26.2,367.1 26.3,366 26.4,364.8 26.5,363.7 26.6,362.6 26.6,361.5 26.7,360.4 26.8,359.3 26.9,358.2 27,356.8 27.1,355.5 27.2,354.1 27.3,352.8 27.4,351.4 27.5,350.1 27.6,348.8 27.7,347.5 27.8,346.3 27.9,345 28.1,343.7 28.2,342.5 28.3,341.3 28.4,340.1 28.5,338.8 28.6,337.6 28.7,336.5 28.8,335.3 28.9,334.1 29,333 29.1,331.8 29.2,330.5 29.3,329.1 29.5,327.8 29.6,326.5 29.7,325.2 29.8,324 30,322.7 30.1,321.4 30.2,320.2 30.3,319 30.4,317.7 30.6,316.6 30.7,315.4 30.8,314.2 30.9,313 31.1,311.9 31.2,310.8 31.3,309.7 31.5,308.3 31.6,306.8 31.8,305.3 31.9,303.8 32.1,302.4 32.2,300.9 32.4,299.5 32.6,298.2 32.7,296.9 32.9,295.7 33,294.6 33.2,293.6 33.3,292.8 33.5,292.1 34.1,289.9 34.7,288 35.2,286.4 35.8,285.4 36.4,285 37.3,285.5 38.2,286.9 39.1,288.8 39.3,289.4 39.5,290.2 39.7,291.3 39.9,292.5 40.1,293.8 40.3,295.3 40.5,296.8 40.7,298.4 40.9,300 41.1,301.6 41.3,303.1 41.4,304.2 41.6,305.4 41.7,306.6 41.8,307.9 42,309.3 42.1,310.6 42.3,312 42.4,313.4 42.5,314.8 42.7,316.2 42.8,317.5 43,318.7 43.1,319.9 43.2,321 43.4,322 43.5,322.9 43.8,324.5 44,326.1 44.3,327.6 44.6,329 44.9,330.4 45.1,331.6 45.4,332.8 45.7,333.9 46,334.9 46.2,335.8 46.5,336.6 46.8,337.3 47.6,339.2 48.5,340.8 49.3,342 50.1,342.4 51.6,342 53,341.2 54.5,340.2 56,338.9 57.4,337.3 58.9,336.2 60.1,335.8 61.3,335.5 62.5,335.4 64,336 65.5,337.4 67,339.2 67.6,340.1 68.1,341.3 68.7,342.7 69.2,344.2 69.8,345.5 70.4,346.8 70.9,348.1 71.5,349.4 72,350.6 72.6,351.8 73.3,353.2 74,354.4 74.7,355.7 75.4,356.9 76.1,358.2 76.8,359.6 77.5,360.9 78.2,362.3 78.9,363.8 79.6,365.2 80.2,366.4 80.8,367.7 81.4,369 82,370.2 82.6,371.6 83.2,372.9 83.7,374.1 84.2,375.3 84.7,376.5 85.2,377.8 85.7,379 86.2,380.2 86.7,381.3 87.4,382.8 88.1,384.3 88.8,385.7 89.5,386.9 90.5,388.5 91.6,389.9 92.7,391.3 93.7,392.5 95.1,394.1 96.5,395.5 97.9,396.8 99.7,398.3 101.5,399.3 103.2,399.9 105,400.2 106.3,400.3 107.5,400.4 108.8,400.5 110.1,400.6 111.3,400.9 112.5,401.3 113.7,401.9 114.9,402.5 116.1,403.1 117.3,403.6 118.5,404.2 119.7,404.8 120.9,405.4 122.1,406.1 123.3,407 124.5,408 125.7,409.1 126.9,410.2 128.1,411.2 129.3,412.2 130.5,413.3 131.7,414.3 132.9,415.2 134.1,415.8 135.3,416.2 136.5,416.6 137.8,416.9 139,417.1 140.2,417.2 141.4,417.2 142.6,417.2 143.8,417.2 145,417.2 146.2,417.2 147.5,417.1 148.7,417.1 150,417 151.4,417.2 152.8,417.9 154.2,418.7 155.6,419.6 157,420.7 158.4,422.2 159.8,423.8 161.2,425.2 162.6,426.5 164,427.9 165.4,429.1 166.8,430.1 168.2,430.9 169.6,431.6 171,432.2 172.4,432.9 173.8,433.7 175.2,434.7 176.6,435.6 178,436.5 179.4,437.4 180.8,438.3 182.2,439.2 183.6,440 185,440.7 186.4,441.4 187.8,442 189.3,442.6 190.7,443.1 192.1,443.5 193.5,443.8 194.9,444 196.3,444.2 197.7,444.4 199.1,444.6 200.5,444.9 201.9,445.2 203.3,445.6 204.7,446 206.1,446.3 207.5,446.6 208.9,447 210.3,447.3 211.7,447.6 213.1,447.9 214.5,448.2 215.9,448.6 217.3,449 218.7,449.2 220.1,449.3 221.5,449.3 222.9,449.2 224.3,449 225.7,448.9 227.1,448.8 228.5,448.7 229.9,448.6 231.3,448.6 232.7,448.5 234.1,448.4 235.4,448.3 236.7,448.1 238,447.9 239.3,447.7 240.6,447.5 242,447.3 243.4,447.1 244.8,447 246.2,446.8 247.6,446.6 249.1,446.4 250.5,446.2 251.9,446.1 253.3,446.2 254.7,446.4 256.1,446.7 257.5,447 258.9,447.5 260.3,448.1 261.7,448.8 263.1,449.5 264.5,450.1 265.9,450.8 267.3,451.4 268.7,452 270.1,452.5 271.5,452.9 272.9,453.3 274.3,453.7 275.7,454.2 277.1,454.8 278.6,455.4 280,456 281.4,456.7 282.8,457.4 284.2,458.2 285.6,458.8 287,459.3 288.4,459.7 289.8,460.1 291.2,460.5 292.6,460.8 294,461.2 295.4,461.5 296.8,461.8 298.2,462.2 299.6,462.5 301,462.9 302.4,463.3 303.7,463.6 305,464 306.4,464.3 307.7,464.7 309,465" class="k"/>
<path d="M21.4,440.4 21.5,439.2 21.6,437.9 21.6,436.7 21.7,435.4 21.8,434.2 21.9,433 22,431.8 22,430.5 22.1,429.3 22.2,428.1 22.3,426.8 22.4,425.6 22.4,424.4 22.5,423.2 22.6,422 22.7,420.7 22.8,419.5 22.8,418.3 22.9,417.1 23,415.9 23.1,414.7 23.2,413.5 23.2,412.2 23.3,411 23.4,409.8 23.5,408.6 23.6,407.4 23.6,406.2 23.7,405 23.8,403.8 23.9,402.6 24,401.4 24,400.2 24.1,399 24.2,397.8 24.3,396.6 24.4,395.4 24.4,394.2 24.5,393 24.6,391.9 24.7,390.7 24.8,389.5 24.8,388.3 24.9,387.1 25,385.9 25.1,384.7 25.2,383.5 25.2,382.4 25.3,381.2 25.4,380 25.5,378.8 25.6,377.5 25.6,376.3 25.7,375 25.8,373.8 25.9,372.5 26,371.3 26.1,370 26.1,368.8 26.2,367.6 26.3,366.4 26.4,365.1 26.5,364 26.6,362.8 26.6,361.6 26.7,360.4 26.8,359.3 26.9,358.2 27,356.8 27.1,355.5 27.2,354.1 27.3,352.8 27.4,351.4 27.5,350.1 27.6,348.8 27.7,347.5 27.8,346.3 27.9,345 28.1,343.7 28.2,342.5 28.3,341.3 28.4,340.1 28.5,338.8 28.6,337.6 28.7,336.5 28.8,335.3 28.9,334.1 29,333 29.1,331.8 29.2,330.5 29.3,329.1 29.5,327.8 29.6,326.5 29.7,325.2 29.8,324 30,322.7 30.1,321.4 30.2,320.2 30.3,319 30.4,317.7 30.6,316.6 30.7,315.4 30.8,314.2 30.9,313 31.1,311.9 31.2,310.8 31.3,309.7 31.5,308.3 31.6,306.8 31.8,305.3 31.9,303.8 32.1,302.4 32.2,300.9 32.4,299.5 32.6,298.2 32.7,296.9 32.9,295.7 33,294.6 33.2,293.6 33.3,292.8 33.5,292.1 34.1,289.9 34.7,288 35.2,286.4 35.8,285.4 36.4,285 37.3,285.5 38.2,286.9 39.1,288.8 39.3,289.4 39.5,290.2 39.7,291.3 39.9,292.5 40.1,293.8 40.3,295.3 40.5,296.8 40.7,298.4 40.9,300 41.1,301.6 41.3,303.1 41.4,304.2 41.6,305.4 41.7,306.6 41.8,307.9 42,309.3 42.1,310.6 42.3,312 42.4,313.4 42.5,314.8 42.7,316.2 42.8,317.5 43,318.7 43.1,319.9 43.2,321 43.4,322 43.5,322.9 43.8,324.5 44,326.1 44.3,327.6 44.6,329 44.9,330.4 45.1,331.6 45.4,332.8 45.7,333.9 46,334.9 46.2,335.8 46.5,336.6 46.8,337.3 47.6,339.2 48.5,340.8 49.3,342 50.1,342.4 51.6,342 53,341.2 54.5,340.2 56,338.9 57.4,337.3 58.9,336.2 60.1,335.8 61.3,335.5 62.5,335.4 64,336 65.5,337.4 67,339.2 67.6,340.1 68.1,341.3 68.7,342.7 69.2,344.2 69.8,345.5 70.4,346.8 70.9,348.1 71.5,349.4 72,350.6 72.6,351.8 73.3,353.2 74,354.4 74.7,355.7 75.4,356.9 76.1,358.2 76.8,359.6 77.5,360.9 78.2,362.3 78.9,363.8 79.6,365.2 80.2,366.4 80.8,367.7 81.4,369 82,370.2 82.6,371.6 83.2,372.9 83.7,374.1 84.2,375.3 84.7,376.5 85.2,377.8 85.7,379 86.2,380.2 86.7,381.3 87.4,382.8 88.1,384.3 88.8,385.7 89.5,386.9 90.5,388.5 91.6,389.9 92.7,391.3 93.7,392.5 95.1,394.1 96.5,395.5 97.9,396.8 99.7,398.3 101.5,399.3 103.2,399.9 105,400.2 106.3,400.3 107.5,400.4 108.8,400.5 110.1,400.6 111.3,400.9 112.5,401.3 113.7,401.9 114.9,402.5 116.1,403.1 117.3,403.6 118.5,404.2 119.7,404.8 120.9,405.4 122.1,406.1 123.3,407 124.5,408 125.7,409.1 126.9,410.2 128.1,411.2 129.3,412.2 130.5,413.3 131.7,414.3 132.9,415.2 134.1,415.8 135.3,416.2 136.5,416.6 137.8,416.9 139,417.1 140.2,417.2 141.4,417.2 142.6,417.2 143.8,417.2 145,417.2 146.2,417.2 147.5,417.1 148.7,417.1 150,417 151.4,417.2 152.8,417.9 154.2,418.7 155.6,419.6 157,420.7 158.4,422.2 159.8,423.8 161.2,425.2 162.6,426.5 164,427.9 165.4,429.1 166.8,430.1 168.2,430.9 169.6,431.6 171,432.2 172.4,432.9 173.8,433.7 175.2,434.7 176.6,435.6 178,436.5 179.4,437.4 180.8,438.3 182.2,439.2 183.6,440 185,440.7 186.4,441.4 187.8,442 189.3,442.6 190.7,443.1 192.1,443.5 193.5,443.8 194.9,444 196.3,444.2 197.7,444.4 199.1,444.6 200.5,444.9 201.9,445.2 203.3,445.6 204.7,446 206.1,446.3 207.5,446.6 208.9,447 210.3,447.3 211.7,447.6 213.1,447.9 214.5,448.2 215.9,448.6 217.3,449 218.7,449.2 220.1,449.3 221.5,449.3 222.9,449.2 224.3,449 225.7,448.9 227.1,448.8 228.5,448.7 229.9,448.6 231.3,448.6 232.7,448.5 234.1,448.4 235.4,448.3 236.7,448.1 238,447.9 239.3,447.7 240.6,447.5 242,447.3 243.4,447.1 244.8,447 246.2,446.8 247.6,446.6 249.1,446.4 250.5,446.2 251.9,446.1 253.3,446.2 254.7,446.4 256.1,446.7 257.5,447 258.9,447.5 260.3,448.1 261.7,448.8 263.1,449.5 264.5,450.1 265.9,450.8 267.3,451.4 268.7,452 270.1,452.5 271.5,452.9 272.9,453.3 274.3,453.7 275.7,454.2 277.1,454.8 278.6,455.4 280,456 281.4,456.7 282.8,457.4 284.2,458.2 285.6,458.8 287,459.3 288.4,459.7 289.8,460.1 291.2,460.5 292.6,460.8 294,461.2 295.4,461.5 296.8,461.8 298.2,462.2 299.6,462.5 301,462.9 302.4,463.3 303.7,463.6 305,464 306.4,464.3 307.7,464.7 309,465" class="b" transform="translate(-0.6,0)"/>
<rect x="17.6" y="261.7" width="291.7" height="207.5" class="fr"/>
<path d="M27.7,469.2V465.6" class="t"/>
<text x="27.7" y="482.1" text-anchor="middle" font-size="10.9">200</text>
<path d="M47.8,469.2V467.2" class="t"/>
<path d="M67.9,469.2V465.6" class="t"/>
<text x="67.9" y="482.1" text-anchor="middle" font-size="10.9">400</text>
<path d="M88,469.2V467.2" class="t"/>
<path d="M108.1,469.2V465.6" class="t"/>
<text x="108.1" y="482.1" text-anchor="middle" font-size="10.9">600</text>
<path d="M128.2,469.2V467.2" class="t"/>
<path d="M148.4,469.2V465.6" class="t"/>
<text x="148.4" y="482.1" text-anchor="middle" font-size="10.9">800</text>
<path d="M168.5,469.2V467.2" class="t"/>
<path d="M188.6,469.2V465.6" class="t"/>
<text x="188.6" y="482.1" text-anchor="middle" font-size="10.9">1000</text>
<path d="M208.7,469.2V467.2" class="t"/>
<path d="M228.8,469.2V465.6" class="t"/>
<text x="228.8" y="482.1" text-anchor="middle" font-size="10.9">1200</text>
<path d="M248.9,469.2V467.2" class="t"/>
<path d="M269.1,469.2V465.6" class="t"/>
<text x="269.1" y="482.1" text-anchor="middle" font-size="10.9">1400</text>
<path d="M289.2,469.2V467.2" class="t"/>
<path d="M309.3,469.2V465.6" class="t"/>
<text x="309.3" y="482.1" text-anchor="middle" font-size="10.9">1600</text>
<path d="M17.6,274.3H19.6" class="t"/>
<path d="M17.6,287H21.2" class="t"/>
<path d="M17.6,299.7H19.6" class="t"/>
<path d="M17.6,312.4H21.2" class="t"/>
<path d="M17.6,325.1H19.6" class="t"/>
<path d="M17.6,337.8H21.2" class="t"/>
<path d="M17.6,350.5H19.6" class="t"/>
<path d="M17.6,363.2H21.2" class="t"/>
<path d="M17.6,375.9H19.6" class="t"/>
<path d="M17.6,388.6H21.2" class="t"/>
<path d="M17.6,401.3H19.6" class="t"/>
<path d="M17.6,414H21.2" class="t"/>
<path d="M17.6,426.7H19.6" class="t"/>
<path d="M17.6,439.4H21.2" class="t"/>
<path d="M17.6,452.1H19.6" class="t"/>
<path d="M17.6,464.8H21.2" class="t"/>
<text x="26.6" y="279.8" font-size="10">232</text>
<text x="40.3" y="378.1" font-size="10">300</text>
<text x="54.7" y="366.7" font-size="10">372</text>
<text x="70" y="384.2" font-size="10">447</text>
<text x="82.6" y="414.9" font-size="10">526</text>
<text x="101.4" y="412.8" font-size="10">606</text>
<text x="115.4" y="421" font-size="10">687</text>
<text x="136.8" y="428" font-size="10">787</text>
<text x="153.4" y="438.9" font-size="10">867</text>
<text x="177.3" y="435.3" font-size="10">961</text>
<text x="196.4" y="439.6" font-size="10">1085</text>
<text x="218.1" y="444.5" font-size="10">1201</text>
<text x="242" y="442.6" font-size="10">1314</text>
<text x="279.4" y="452.1" font-size="10">1450</text>
<rect x="194.3" y="264.4" width="111.2" height="38.8" class="lg"/>
<path d="M194.6,271.8H218.6" class="kl"/>
<path d="M194.6,284H218.6" class="bl"/>
<text x="220.8" y="275.2" font-size="10">Actual Spectra</text>
<text x="220.8" y="287.8" font-size="10">Cumulative Fit Peak</text>
<text x="196" y="299.6" font-size="10">BZNNi2</text>
<text x="118" y="494.3" font-size="11.9">Raman Shift (cm<tspan font-size="7.4" dy="-5">-1</tspan><tspan dy="5">)</tspan></text>
<text transform="translate(8.6,403.2) rotate(-90)" font-size="11.7">Intensity (A. U.)</text>
<path d="M392.9,446.9 393.9,439 394.9,429.5 395.9,418.2 396.9,405.4 397.9,391.3 398.9,376.4 399.9,361.3 400.9,346.8 401.9,333.6 402.9,322.6 403.9,314.4 404.9,309.7 405.9,308.7 406.9,311.6 407.9,318.1 408.9,327.7 409.9,339.9 410.9,353.9 411.9,368.8 412.9,383.9 413.9,398.4 414.9,411.9 415.9,424 416.9,434.4 417.9,443.1 418.9,450.2 419.9,455.7 420.9,459.9 421.9,463.1 422.9,465.3 423.9,466.9 424.9,468 425.9,468.7 426.9,469.2 427.9,469.5 428.9,469.6 429.9,469.8 430.9,469.8 431.9,469.9 673.2,469.9" class="r"/>
<path d="M405.7,304.6V312.6" class="m"/>
<path d="M392.9,469.7 393.9,469.6 394.9,469.4 395.9,469.2 396.9,468.8 397.9,468.3 398.9,467.6 399.9,466.8 400.9,465.6 401.9,464 402.9,462.1 403.9,459.7 404.9,456.8 405.9,453.2 406.9,449.1 407.9,444.4 408.9,439.1 409.9,433.4 410.9,427.2 411.9,420.8 412.9,414.4 413.9,408.2 414.9,402.3 415.9,397.1 416.9,392.8 417.9,389.5 418.9,387.4 419.9,386.7 420.9,387.3 421.9,389.2 422.9,392.4 423.9,396.6 424.9,401.8 425.9,407.5 426.9,413.8 427.9,420.2 428.9,426.6 429.9,432.8 430.9,438.6 431.9,443.9 432.9,448.7 433.9,452.9 434.9,456.4 435.9,459.4 436.9,461.9 437.9,463.9 438.9,465.4 439.9,466.6 440.9,467.6 441.9,468.3 442.9,468.8 443.9,469.1 444.9,469.4 445.9,469.6 446.9,469.7 447.9,469.8 448.9,469.8 449.9,469.8 450.9,469.9 673.2,469.9" class="r"/>
<path d="M420,382.7V390.7" class="m"/>
<path d="M392.9,469.9 399.9,469.9 400.9,469.8 401.9,469.8 402.9,469.8 403.9,469.7 404.9,469.6 405.9,469.4 406.9,469.2 407.9,468.9 408.9,468.4 409.9,467.8 410.9,467 411.9,465.9 412.9,464.5 413.9,462.8 414.9,460.5 415.9,457.7 416.9,454.4 417.9,450.4 418.9,445.7 419.9,440.4 420.9,434.5 421.9,427.9 422.9,420.9 423.9,413.5 424.9,406 425.9,398.5 426.9,391.3 427.9,384.7 428.9,378.9 429.9,374.1 430.9,370.5 431.9,368.3 432.9,367.6 433.9,368.4 434.9,370.6 435.9,374.3 436.9,379.1 437.9,385 438.9,391.7 439.9,398.8 440.9,406.3 441.9,413.8 442.9,421.2 443.9,428.2 444.9,434.7 445.9,440.7 446.9,446 447.9,450.6 448.9,454.6 449.9,457.9 450.9,460.6 451.9,462.8 452.9,464.6 453.9,466 454.9,467.1 455.9,467.9 456.9,468.5 457.9,468.9 458.9,469.2 459.9,469.4 460.9,469.6 461.9,469.7 462.9,469.8 463.9,469.8 464.9,469.8 465.9,469.9 673.2,469.9" class="r"/>
<path d="M432.9,363.6V371.6" class="m"/>
<path d="M392.9,469.9 412.9,469.9 413.9,469.8 414.9,469.8 415.9,469.8 416.9,469.7 417.9,469.6 418.9,469.5 419.9,469.3 420.9,469 421.9,468.6 422.9,468.2 423.9,467.5 424.9,466.7 425.9,465.7 426.9,464.4 427.9,462.7 428.9,460.8 429.9,458.4 430.9,455.6 431.9,452.3 432.9,448.5 433.9,444.3 434.9,439.7 435.9,434.7 436.9,429.3 437.9,423.8 438.9,418.1 439.9,412.5 440.9,407.1 441.9,402.1 442.9,397.6 443.9,393.8 444.9,390.9 445.9,388.8 446.9,387.8 447.9,387.8 448.9,388.9 449.9,391 450.9,394 451.9,397.9 452.9,402.4 453.9,407.4 454.9,412.8 455.9,418.4 456.9,424.1 457.9,429.6 458.9,435 459.9,440 460.9,444.6 461.9,448.8 462.9,452.5 463.9,455.7 464.9,458.5 465.9,460.9 466.9,462.8 467.9,464.4 468.9,465.7 469.9,466.8 470.9,467.6 471.9,468.2 472.9,468.7 473.9,469 474.9,469.3 475.9,469.5 476.9,469.6 477.9,469.7 478.9,469.8 479.9,469.8 480.9,469.8 481.9,469.9 673.2,469.9" class="r"/>
<path d="M447.4,383.7V391.7" class="m"/>
<path d="M392.9,469.9 429.9,469.9 430.9,469.8 431.9,469.8 432.9,469.8 433.9,469.7 434.9,469.6 435.9,469.5 436.9,469.3 437.9,469.1 438.9,468.7 439.9,468.3 440.9,467.8 441.9,467.1 442.9,466.2 443.9,465.2 444.9,463.9 445.9,462.3 446.9,460.5 447.9,458.3 448.9,455.9 449.9,453.2 450.9,450.1 451.9,446.9 452.9,443.5 453.9,439.9 454.9,436.3 455.9,432.7 456.9,429.3 457.9,426.1 458.9,423.3 459.9,420.9 460.9,419.1 461.9,417.9 462.9,417.3 463.9,417.4 464.9,418.2 465.9,419.6 466.9,421.7 467.9,424.2 468.9,427.1 469.9,430.4 470.9,433.9 471.9,437.5 472.9,441.1 473.9,444.6 474.9,448 475.9,451.2 476.9,454.1 477.9,456.7 478.9,459.1 479.9,461.1 480.9,462.8 481.9,464.3 482.9,465.5 483.9,466.5 484.9,467.3 485.9,468 486.9,468.5 487.9,468.9 488.9,469.1 489.9,469.4 490.9,469.5 491.9,469.6 492.9,469.7 493.9,469.8 494.9,469.8 495.9,469.8 496.9,469.9 673.2,469.9" class="r"/>
<path d="M463.2,413.3V421.3" class="m"/>
<path d="M392.9,469.9 441.9,469.9 442.9,469.8 443.9,469.8 444.9,469.8 445.9,469.7 446.9,469.7 447.9,469.6 448.9,469.5 449.9,469.3 450.9,469.1 451.9,468.8 452.9,468.5 453.9,468.1 454.9,467.5 455.9,466.9 456.9,466.1 457.9,465.1 458.9,464 459.9,462.6 460.9,461 461.9,459.3 462.9,457.2 463.9,455 464.9,452.5 465.9,449.8 466.9,447 467.9,444 468.9,441 469.9,437.9 470.9,434.8 471.9,431.9 472.9,429.1 473.9,426.6 474.9,424.5 475.9,422.7 476.9,421.3 477.9,420.5 478.9,420.1 479.9,420.3 480.9,420.9 481.9,422.1 482.9,423.7 483.9,425.7 484.9,428.1 485.9,430.8 486.9,433.6 487.9,436.6 488.9,439.7 489.9,442.8 490.9,445.8 491.9,448.7 492.9,451.4 493.9,454 494.9,456.3 495.9,458.5 496.9,460.4 497.9,462 498.9,463.4 499.9,464.7 500.9,465.7 501.9,466.6 502.9,467.3 503.9,467.9 504.9,468.4 505.9,468.7 506.9,469 507.9,469.2 508.9,469.4 509.9,469.5 510.9,469.6 511.9,469.7 512.9,469.8 513.9,469.8 514.9,469.8 515.9,469.9 673.2,469.9" class="r"/>
<path d="M479.1,416.1V424.1" class="m"/>
<path d="M392.9,469.9 454.9,469.9 455.9,469.8 456.9,469.8 457.9,469.8 458.9,469.7 459.9,469.7 460.9,469.6 461.9,469.5 462.9,469.4 463.9,469.2 464.9,469.1 465.9,468.8 466.9,468.5 467.9,468.2 468.9,467.7 469.9,467.2 470.9,466.6 471.9,465.8 472.9,465 473.9,464 474.9,462.8 475.9,461.5 476.9,460.1 477.9,458.5 478.9,456.7 479.9,454.8 480.9,452.8 481.9,450.6 482.9,448.3 483.9,445.9 484.9,443.5 485.9,441.1 486.9,438.7 487.9,436.4 488.9,434.2 489.9,432.1 490.9,430.3 491.9,428.7 492.9,427.4 493.9,426.3 494.9,425.7 495.9,425.3 496.9,425.4 497.9,425.7 498.9,426.5 499.9,427.5 500.9,428.9 501.9,430.5 502.9,432.4 503.9,434.4 504.9,436.7 505.9,439 506.9,441.4 507.9,443.8 508.9,446.2 509.9,448.6 510.9,450.9 511.9,453 512.9,455.1 513.9,457 514.9,458.7 515.9,460.3 516.9,461.7 517.9,463 518.9,464.1 519.9,465.1 520.9,465.9 521.9,466.7 522.9,467.3 523.9,467.8 524.9,468.2 525.9,468.6 526.9,468.8 527.9,469.1 528.9,469.3 529.9,469.4 530.9,469.5 531.9,469.6 532.9,469.7 533.9,469.7 534.9,469.8 535.9,469.8 536.9,469.8 537.9,469.9 673.2,469.9" class="r"/>
<path d="M496.3,421.3V429.3" class="m"/>
<path d="M392.9,469.9 476.9,469.9 477.9,469.8 478.9,469.8 479.9,469.8 480.9,469.7 481.9,469.7 482.9,469.6 483.9,469.5 484.9,469.4 485.9,469.2 486.9,469 487.9,468.7 488.9,468.4 489.9,468 490.9,467.5 491.9,466.9 492.9,466.2 493.9,465.4 494.9,464.4 495.9,463.3 496.9,462 497.9,460.6 498.9,459 499.9,457.3 500.9,455.3 501.9,453.3 502.9,451.1 503.9,448.8 504.9,446.5 505.9,444.1 506.9,441.7 507.9,439.3 508.9,437.1 509.9,434.9 510.9,433 511.9,431.2 512.9,429.8 513.9,428.6 514.9,427.8 515.9,427.3 516.9,427.2 517.9,427.5 518.9,428.1 519.9,429 520.9,430.3 521.9,431.9 522.9,433.7 523.9,435.7 524.9,437.9 525.9,440.2 526.9,442.6 527.9,445 528.9,447.4 529.9,449.7 530.9,452 531.9,454.1 532.9,456.1 533.9,458 534.9,459.6 535.9,461.2 536.9,462.5 537.9,463.7 538.9,464.8 539.9,465.7 540.9,466.5 541.9,467.1 542.9,467.7 543.9,468.1 544.9,468.5 545.9,468.8 546.9,469.1 547.9,469.3 548.9,469.4 549.9,469.5 550.9,469.6 551.9,469.7 552.9,469.7 553.9,469.8 554.9,469.8 555.9,469.8 556.9,469.9 673.2,469.9" class="r"/>
<path d="M516.7,423.2V431.2" class="m"/>
<path d="M392.9,469.9 502.9,469.9 503.9,469.8 504.9,469.8 505.9,469.8 506.9,469.7 507.9,469.7 508.9,469.6 509.9,469.5 510.9,469.3 511.9,469.1 512.9,468.9 513.9,468.5 514.9,468.2 515.9,467.7 516.9,467.1 517.9,466.4 518.9,465.6 519.9,464.6 520.9,463.5 521.9,462.3 522.9,460.9 523.9,459.3 524.9,457.6 525.9,455.8 526.9,453.9 527.9,451.9 528.9,449.8 529.9,447.8 530.9,445.8 531.9,443.9 532.9,442.2 533.9,440.6 534.9,439.3 535.9,438.3 536.9,437.5 537.9,437.1 538.9,437 539.9,437.3 540.9,437.9 541.9,438.8 542.9,440 543.9,441.4 544.9,443.1 545.9,444.9 546.9,446.8 547.9,448.9 548.9,450.9 549.9,452.9 550.9,454.9 551.9,456.7 552.9,458.5 553.9,460.1 554.9,461.6 555.9,462.9 556.9,464.1 557.9,465.1 558.9,466 559.9,466.8 560.9,467.4 561.9,467.9 562.9,468.4 563.9,468.7 564.9,469 565.9,469.2 566.9,469.4 567.9,469.5 568.9,469.6 569.9,469.7 570.9,469.8 571.9,469.8 572.9,469.8 573.9,469.8 574.9,469.9 673.2,469.9" class="r"/>
<path d="M538.6,433V441" class="m"/>
<path d="M392.9,469.9 527.9,469.9 528.9,469.8 529.9,469.8 530.9,469.8 531.9,469.7 532.9,469.7 533.9,469.6 534.9,469.5 535.9,469.4 536.9,469.2 537.9,469 538.9,468.7 539.9,468.4 540.9,467.9 541.9,467.4 542.9,466.9 543.9,466.2 544.9,465.4 545.9,464.6 546.9,463.6 547.9,462.6 548.9,461.4 549.9,460.3 550.9,459.1 551.9,457.9 552.9,456.7 553.9,455.5 554.9,454.5 555.9,453.6 556.9,452.8 557.9,452.2 558.9,451.7 559.9,451.5 560.9,451.5 561.9,451.7 562.9,452.2 563.9,452.8 564.9,453.6 565.9,454.5 566.9,455.6 567.9,456.7 568.9,457.9 569.9,459.1 570.9,460.3 571.9,461.5 572.9,462.6 573.9,463.6 574.9,464.6 575.9,465.5 576.9,466.2 577.9,466.9 578.9,467.5 579.9,468 580.9,468.4 581.9,468.7 582.9,469 583.9,469.2 584.9,469.4 585.9,469.5 586.9,469.6 587.9,469.7 588.9,469.7 589.9,469.8 590.9,469.8 591.9,469.8 592.9,469.9 673.2,469.9" class="r"/>
<path d="M560.4,447.5V455.5" class="m"/>
<path d="M392.9,469.9 535.9,469.9 536.9,469.8 537.9,469.8 538.9,469.8 539.9,469.8 540.9,469.7 541.9,469.7 542.9,469.6 543.9,469.5 544.9,469.4 545.9,469.3 546.9,469.2 547.9,469 548.9,468.8 549.9,468.5 550.9,468.2 551.9,467.9 552.9,467.5 553.9,467.1 554.9,466.6 555.9,466 556.9,465.4 557.9,464.7 558.9,464 559.9,463.2 560.9,462.4 561.9,461.5 562.9,460.6 563.9,459.7 564.9,458.7 565.9,457.8 566.9,456.8 567.9,455.9 568.9,455.1 569.9,454.3 570.9,453.6 571.9,452.9 572.9,452.4 573.9,452 574.9,451.7 575.9,451.5 576.9,451.5 577.9,451.6 578.9,451.8 579.9,452.2 580.9,452.7 581.9,453.3 582.9,453.9 583.9,454.7 584.9,455.5 585.9,456.4 586.9,457.3 587.9,458.3 588.9,459.2 589.9,460.2 590.9,461.1 591.9,462 592.9,462.8 593.9,463.6 594.9,464.4 595.9,465.1 596.9,465.7 597.9,466.3 598.9,466.8 599.9,467.3 600.9,467.7 601.9,468.1 602.9,468.4 603.9,468.7 604.9,468.9 605.9,469.1 606.9,469.2 607.9,469.4 608.9,469.5 609.9,469.6 610.9,469.6 611.9,469.7 612.9,469.7 613.9,469.8 614.9,469.8 615.9,469.8 616.9,469.8 617.9,469.9 673.2,469.9" class="r"/>
<path d="M576.6,447.5V455.5" class="m"/>
<path d="M392.9,469.9 557.9,469.9 558.9,469.8 559.9,469.8 560.9,469.8 561.9,469.8 562.9,469.8 563.9,469.7 564.9,469.7 565.9,469.6 566.9,469.5 567.9,469.5 568.9,469.4 569.9,469.3 570.9,469.1 571.9,469 572.9,468.8 573.9,468.6 574.9,468.3 575.9,468 576.9,467.7 577.9,467.4 578.9,467 579.9,466.5 580.9,466 581.9,465.5 582.9,464.9 583.9,464.2 584.9,463.5 585.9,462.8 586.9,462 587.9,461.1 588.9,460.3 589.9,459.4 590.9,458.4 591.9,457.5 592.9,456.5 593.9,455.6 594.9,454.7 595.9,453.8 596.9,452.9 597.9,452.1 598.9,451.3 599.9,450.7 600.9,450 601.9,449.5 602.9,449.1 603.9,448.8 604.9,448.6 605.9,448.5 606.9,448.5 607.9,448.7 608.9,448.9 609.9,449.3 610.9,449.7 611.9,450.3 612.9,450.9 613.9,451.6 614.9,452.4 615.9,453.2 616.9,454.1 617.9,455 618.9,456 619.9,456.9 620.9,457.8 621.9,458.8 622.9,459.7 623.9,460.6 624.9,461.4 625.9,462.3 626.9,463 627.9,463.8 628.9,464.5 629.9,465.1 630.9,465.7 631.9,466.2 632.9,466.7 633.9,467.1 634.9,467.5 635.9,467.8 636.9,468.2 637.9,468.4 638.9,468.7 639.9,468.9 640.9,469 641.9,469.2 642.9,469.3 643.9,469.4 644.9,469.5 645.9,469.6 646.9,469.6 647.9,469.7 648.9,469.7 649.9,469.8 650.9,469.8 651.9,469.8 652.9,469.8 653.9,469.8 654.9,469.9 673.2,469.9" class="r"/>
<path d="M606.2,444.5V452.5" class="m"/>
<path d="M392.9,469.9 578.9,469.9 579.9,469.8 580.9,469.8 581.9,469.8 582.9,469.8 583.9,469.8 584.9,469.8 585.9,469.7 586.9,469.7 587.9,469.7 588.9,469.6 589.9,469.6 590.9,469.5 591.9,469.4 592.9,469.4 593.9,469.3 594.9,469.2 595.9,469.1 596.9,469 597.9,468.8 598.9,468.7 599.9,468.5 600.9,468.3 601.9,468.1 602.9,467.9 603.9,467.6 604.9,467.3 605.9,467 606.9,466.7 607.9,466.4 608.9,466 609.9,465.6 610.9,465.2 611.9,464.7 612.9,464.3 613.9,463.8 614.9,463.2 615.9,462.7 616.9,462.2 617.9,461.6 618.9,461 619.9,460.4 620.9,459.8 621.9,459.2 622.9,458.6 623.9,458 624.9,457.5 625.9,456.9 626.9,456.3 627.9,455.8 628.9,455.3 629.9,454.9 630.9,454.4 631.9,454 632.9,453.7 633.9,453.4 634.9,453.2 635.9,453 636.9,452.8 637.9,452.7 638.9,452.7 639.9,452.7 640.9,452.8 641.9,452.9 642.9,453.1 643.9,453.4 644.9,453.7 645.9,454 646.9,454.4 647.9,454.8 648.9,455.3 649.9,455.8 650.9,456.3 651.9,456.9 652.9,457.4 653.9,458 654.9,458.6 655.9,459.2 656.9,459.8 657.9,460.4 658.9,461 659.9,461.6 660.9,462.1 661.9,462.7 662.9,463.2 663.9,463.7 664.9,464.2 665.9,464.7 666.9,465.2 667.9,465.6 668.9,466 669.9,466.4 670.9,466.7 671.9,467 672.9,467.3 673.2,467.4" class="r"/>
<path d="M638.9,448.7V456.7" class="m"/>
<path d="M392.9,468.6 393,467.9 393.1,467.1 393.1,466.2 393.2,465.3 393.3,464.3 393.4,463.3 393.5,462.3 393.5,461.1 393.6,460 393.7,458.8 393.8,457.5 393.9,456.2 394,454.9 394,453.5 394.1,452.1 394.2,450.6 394.3,449.2 394.4,447.7 394.4,446.1 394.5,444.6 394.6,443 394.6,442.2 394.7,441.3 394.7,440.3 394.8,439.3 394.8,438.3 394.9,437.2 394.9,436.1 394.9,434.9 395,433.8 395,432.5 395.1,431.3 395.1,430 395.1,428.7 395.2,427.4 395.2,426 395.3,424.7 395.3,423.3 395.4,421.9 395.4,420.5 395.4,419.1 395.5,417.6 395.5,416.2 395.6,414.8 395.6,413.3 395.6,411.9 395.7,410.5 395.7,409.1 395.8,407.7 395.8,406.3 395.9,404.9 395.9,403.5 395.9,402.2 396,400.8 396,399.5 396.1,398.3 396.1,397 396.1,395.8 396.2,394.6 396.2,393.4 396.3,392.3 396.3,391.2 396.4,390.2 396.4,389.2 396.4,388.3 396.5,387.4 396.5,386.5 396.6,385.7 396.6,385 396.7,383.3 396.8,381.6 396.9,380.1 397,378.6 397.1,377.2 397.2,375.9 397.3,374.6 397.4,373.4 397.5,372.2 397.6,371.1 397.8,370 397.9,368.9 398,367.8 398.1,366.7 398.2,365.6 398.3,364.6 398.4,363.5 398.5,362.4 398.6,361.2 398.7,360 398.8,358.8 398.9,357.6 399,356.4 399.1,355.2 399.2,353.9 399.3,352.7 399.4,351.5 399.5,350.3 399.6,349 399.7,347.8 399.8,346.5 399.9,345.3 400,344.1 400.1,342.9 400.2,341.7 400.3,340.5 400.4,339.3 400.5,338.1 400.6,336.9 400.7,335.8 400.8,334.6 400.9,333.5 401,332.4 401.1,331.1 401.2,329.7 401.4,328.4 401.5,327 401.6,325.7 401.7,324.4 401.9,323.1 402,321.8 402.1,320.5 402.2,319.3 402.3,318 402.5,316.8 402.6,315.6 402.7,314.5 402.8,313.4 403,312.3 403.1,311.3 403.2,310.3 403.4,308.7 403.6,307.1 403.8,305.6 404,304.1 404.2,302.6 404.4,301.2 404.6,299.9 404.8,298.7 405,297.7 405.2,296.8 405.4,296 405.9,294.2 406.5,292.6 407,291.2 407.6,290.3 408.1,290 408.9,290.5 409.7,291.9 410.5,293.8 410.7,294.4 410.8,295.1 411,296.1 411.2,297.3 411.3,298.5 411.5,299.9 411.7,301.4 411.9,302.9 412,304.4 412.2,306 412.4,307.5 412.5,308.9 412.7,310.3 412.9,311.6 413,312.9 413.2,314.2 413.3,315.6 413.5,317 413.6,318.4 413.8,319.8 414,321.1 414.1,322.5 414.3,323.7 414.4,324.9 414.6,326.1 414.7,327.1 414.9,328 415.2,329.7 415.5,331.3 415.8,332.9 416.1,334.4 416.4,335.8 416.7,337 417,337.9 417.3,338.6 417.6,339 419.2,339.8 420.9,340.1 422,339.5 423.1,338.1 424.2,336.3 425.3,334.6 426.2,333.2 427.1,331.5 427.9,329.9 428.8,328.6 429.7,328 431.4,327.6 433,327.5 434.1,328 435.2,329.1 436.3,330.8 437.4,332.6 438,333.7 438.5,335.2 439.1,336.8 439.6,338.4 440.2,339.8 440.8,341.1 441.4,342.3 442,343.5 442.6,344.7 443.2,345.8 443.8,347 444.4,348.3 445,349.6 445.6,351 446.1,352.5 446.7,353.9 447.3,355.3 447.9,356.7 448.5,358 449.1,359.3 449.6,360.5 450.2,361.7 450.8,363 451.4,364.4 451.9,365.6 452.4,366.9 452.9,368.2 453.3,369.5 453.8,370.8 454.3,372.1 454.9,373.6 455.4,375.1 456,376.5 456.5,377.9 457.1,379.2 457.8,380.7 458.5,382 459.2,383.3 459.9,384.5 460.6,385.5 461.8,387 463.1,388.3 464.3,389.5 465.5,390.4 466.9,391.3 468.3,392.1 469.7,392.8 471.1,393.4 472.5,393.9 473.9,394.3 475.3,394.6 476.7,394.9 478.1,395.3 479.5,395.9 481,396.8 482.4,397.8 483.8,398.8 485.1,399.9 486.5,401.2 487.8,402.5 489.1,403.7 490.3,404.6 491.5,405.4 492.7,406.1 493.9,406.9 495.1,407.7 496.3,408.6 497.5,409.5 498.7,410.5 499.9,411.4 501.1,412.2 502.3,412.9 503.5,413.7 504.7,414.3 505.9,414.9 507.1,415.2 508.3,415.4 509.5,415.5 510.8,415.5 512,415.6 513.2,415.8 514.4,416.1 515.6,416.5 516.8,417 518,417.6 519.2,418.2 520.4,418.9 521.6,419.6 522.8,420.4 524,421.3 525.2,422.2 526.8,423.6 528.4,425.2 530,426.5 531.4,427.3 532.7,427.9 534,428.5 535.4,429.2 536.7,429.9 538,430.7 539.4,431.6 540.7,432.5 542.1,433.6 543.4,434.9 544.8,436.1 546.1,437.2 547.5,438.2 548.8,439.1 550.1,439.8 551.5,440.2 552.9,440.4 554.2,440.5 555.5,440.6 556.9,440.6 558.2,440.6 559.6,440.5 560.9,440.3 562.3,440.2 563.6,440.2 565,440.3 566.3,440.7 567.6,441.1 569,441.5 570.3,441.9 571.7,442.4 573,443 574.4,443.5 575.7,444 577,444.4 578.4,444.8 579.7,445.2 581.1,445.6 582.4,446 583.7,446.5 585.1,447.1 586.4,447.7 587.8,448.1 589.1,448.3 590.4,448.2 591.8,448 593.1,447.6 594.5,447.3 595.8,446.9 597.1,446.5 598.5,446 599.8,445.5 601.2,445 602.5,444.6 603.9,444.3 605.2,444 606.6,443.7 607.9,443.5 609.3,443.3 610.5,443.2 611.7,443.1 613,443 614.2,442.9 615.4,442.9 616.8,443 618.1,443.2 619.4,443.5 620.8,443.8 622.1,444.1 623.5,444.5 624.9,445 626.2,445.4 627.6,445.8 628.9,446.2 630.2,446.7 631.6,447.1 633,447.6 634.4,448 635.7,448.5 637.1,449 638.5,449.6 639.8,450.2 641.1,450.8 642.5,451.4 643.9,452 645.2,452.6 646.5,453.2 647.9,453.8 649.2,454.3 650.6,454.7 651.9,455.1 653.3,455.7 654.6,456.5 656,457.4 657.4,458.5 658.7,459.5 660.1,460.6 661.4,461.8 662.8,462.9 664.1,463.8 665.5,464.4 666.8,465 668.1,465.5 669.5,466 671.2,466.8 673,467.6" class="k"/>
<path d="M393.2,443.1 393.3,441.7 393.3,440.3 393.4,438.8 393.5,437.4 393.6,436 393.6,434.7 393.7,433.3 393.8,431.9 393.8,430.6 393.9,429.2 394,427.9 394.1,426.6 394.1,425.2 394.2,423.9 394.3,422.6 394.3,421.3 394.4,420.1 394.5,418.8 394.5,417.5 394.6,416.3 394.7,415 394.8,413.8 394.8,412.6 394.9,411.3 395,410.1 395,408.9 395.1,407.7 395.2,406.6 395.3,405.4 395.3,404.2 395.4,403.1 395.5,401.9 395.5,400.8 395.6,399.7 395.7,398.6 395.8,397.5 395.8,396.4 395.9,395.3 396,394.2 396,393.2 396.1,392.1 396.2,391.1 396.2,390 396.3,389 396.4,388 396.5,387 396.5,386 396.6,385 396.7,383.6 396.8,382.2 396.9,380.8 397,379.5 397.1,378.2 397.2,376.9 397.3,375.6 397.4,374.4 397.5,373.2 397.6,372 397.8,370.8 397.9,369.6 398,368.4 398.1,367.2 398.2,366.1 398.3,364.9 398.4,363.7 398.5,362.5 398.6,361.3 398.7,360 398.8,358.8 398.9,357.6 399,356.4 399.1,355.2 399.2,353.9 399.3,352.7 399.4,351.5 399.5,350.3 399.6,349 399.7,347.8 399.8,346.5 399.9,345.3 400,344.1 400.1,342.9 400.2,341.7 400.3,340.5 400.4,339.3 400.5,338.1 400.6,336.9 400.7,335.8 400.8,334.6 400.9,333.5 401,332.4 401.1,331.1 401.2,329.7 401.4,328.4 401.5,327 401.6,325.7 401.7,324.4 401.9,323.1 402,321.8 402.1,320.5 402.2,319.3 402.3,318 402.5,316.8 402.6,315.6 402.7,314.5 402.8,313.4 403,312.3 403.1,311.3 403.2,310.3 403.4,308.7 403.6,307.1 403.8,305.6 404,304.1 404.2,302.6 404.4,301.2 404.6,299.9 404.8,298.7 405,297.7 405.2,296.8 405.4,296 405.9,294.2 406.5,292.6 407,291.2 407.6,290.3 408.1,290 408.9,290.5 409.7,291.9 410.5,293.8 410.7,294.4 410.8,295.1 411,296.1 411.2,297.3 411.3,298.5 411.5,299.9 411.7,301.4 411.9,302.9 412,304.4 412.2,306 412.4,307.5 412.5,308.9 412.7,310.3 412.9,311.6 413,312.9 413.2,314.2 413.3,315.6 413.5,317 413.6,318.4 413.8,319.8 414,321.1 414.1,322.5 414.3,323.7 414.4,324.9 414.6,326.1 414.7,327.1 414.9,328 415.2,329.7 415.5,331.3 415.8,332.9 416.1,334.4 416.4,335.8 416.7,337 417,337.9 417.3,338.6 417.6,339 419.2,339.8 420.9,340.1 422,339.5 423.1,338.1 424.2,336.3 425.3,334.6 426.2,333.2 427.1,331.5 427.9,329.9 428.8,328.6 429.7,328 431.4,327.6 433,327.5 434.1,328 435.2,329.1 436.3,330.8 437.4,332.6 438,333.7 438.5,335.2 439.1,336.8 439.6,338.4 440.2,339.8 440.8,341.1 441.4,342.3 442,343.5 442.6,344.7 443.2,345.8 443.8,347 444.4,348.3 445,349.6 445.6,351 446.1,352.5 446.7,353.9 447.3,355.3 447.9,356.7 448.5,358 449.1,359.3 449.6,360.5 450.2,361.7 450.8,363 451.4,364.4 451.9,365.6 452.4,366.9 452.9,368.2 453.3,369.5 453.8,370.8 454.3,372.1 454.9,373.6 455.4,375.1 456,376.5 456.5,377.9 457.1,379.2 457.8,380.7 458.5,382 459.2,383.3 459.9,384.5 460.6,385.5 461.8,387 463.1,388.3 464.3,389.5 465.5,390.4 466.9,391.3 468.3,392.1 469.7,392.8 471.1,393.4 472.5,393.9 473.9,394.3 475.3,394.6 476.7,394.9 478.1,395.3 479.5,395.9 481,396.8 482.4,397.8 483.8,398.8 485.1,399.9 486.5,401.2 487.8,402.5 489.1,403.7 490.3,404.6 491.5,405.4 492.7,406.1 493.9,406.9 495.1,407.7 496.3,408.6 497.5,409.5 498.7,410.5 499.9,411.4 501.1,412.2 502.3,412.9 503.5,413.7 504.7,414.3 505.9,414.9 507.1,415.2 508.3,415.4 509.5,415.5 510.8,415.5 512,415.6 513.2,415.8 514.4,416.1 515.6,416.5 516.8,417 518,417.6 519.2,418.2 520.4,418.9 521.6,419.6 522.8,420.4 524,421.3 525.2,422.2 526.8,423.6 528.4,425.2 530,426.5 531.4,427.3 532.7,427.9 534,428.5 535.4,429.2 536.7,429.9 538,430.7 539.4,431.6 540.7,432.5 542.1,433.6 543.4,434.9 544.8,436.1 546.1,437.2 547.5,438.2 548.8,439.1 550.1,439.8 551.5,440.2 552.9,440.4 554.2,440.5 555.5,440.6 556.9,440.6 558.2,440.6 559.6,440.5 560.9,440.3 562.3,440.2 563.6,440.2 565,440.3 566.3,440.7 567.6,441.1 569,441.5 570.3,441.9 571.7,442.4 573,443 574.4,443.5 575.7,444 577,444.4 578.4,444.8 579.7,445.2 581.1,445.6 582.4,446 583.7,446.5 585.1,447.1 586.4,447.7 587.8,448.1 589.1,448.3 590.4,448.2 591.8,448 593.1,447.6 594.5,447.3 595.8,446.9 597.1,446.5 598.5,446 599.8,445.5 601.2,445 602.5,444.6 603.9,444.3 605.2,444 606.6,443.7 607.9,443.5 609.3,443.3 610.5,443.2 611.7,443.1 613,443 614.2,442.9 615.4,442.9 616.8,443 618.1,443.2 619.4,443.5 620.8,443.8 622.1,444.1 623.5,444.5 624.9,445 626.2,445.4 627.6,445.8 628.9,446.2 630.2,446.7 631.6,447.1 633,447.6 634.4,448 635.7,448.5 637.1,449 638.5,449.6 639.8,450.2 641.1,450.8 642.5,451.4 643.9,452 645.2,452.6 646.5,453.2 647.9,453.8 649.2,454.3 650.6,454.7 651.9,455.1 653.3,455.7 654.6,456.5 656,457.4 657.4,458.5 658.7,459.5 660.1,460.6 661.4,461.8 662.8,462.9 664.1,463.8 665.5,464.4 666.8,465 668.1,465.5 669.5,466 671.2,466.8 673,467.6" class="b" transform="translate(-0.6,0)"/>
<rect x="389.2" y="265" width="284" height="206.3" class="fr"/>
<path d="M399,471.3V467.7" class="t"/>
<text x="400.5" y="483.2" text-anchor="middle" font-size="10.2">200</text>
<path d="M418.6,471.3V469.3" class="t"/>
<path d="M438.2,471.3V467.7" class="t"/>
<text x="439.7" y="483.2" text-anchor="middle" font-size="10.2">400</text>
<path d="M457.8,471.3V469.3" class="t"/>
<path d="M477.3,471.3V467.7" class="t"/>
<text x="478.8" y="483.2" text-anchor="middle" font-size="10.2">600</text>
<path d="M496.9,471.3V469.3" class="t"/>
<path d="M516.5,471.3V467.7" class="t"/>
<text x="518" y="483.2" text-anchor="middle" font-size="10.2">800</text>
<path d="M536.1,471.3V469.3" class="t"/>
<path d="M555.7,471.3V467.7" class="t"/>
<text x="557.2" y="483.2" text-anchor="middle" font-size="10.2">1000</text>
<path d="M575.3,471.3V469.3" class="t"/>
<path d="M594.9,471.3V467.7" class="t"/>
<text x="596.4" y="483.2" text-anchor="middle" font-size="10.2">1200</text>
<path d="M614.4,471.3V469.3" class="t"/>
<path d="M634,471.3V467.7" class="t"/>
<text x="635.5" y="483.2" text-anchor="middle" font-size="10.2">1400</text>
<path d="M653.6,471.3V469.3" class="t"/>
<path d="M673.2,471.3V467.7" class="t"/>
<text x="674.7" y="483.2" text-anchor="middle" font-size="10.2">1600</text>
<path d="M389.2,277.3H391.2" class="t"/>
<path d="M389.2,290H392.8" class="t"/>
<path d="M389.2,302.7H391.2" class="t"/>
<path d="M389.2,315.4H392.8" class="t"/>
<path d="M389.2,328.1H391.2" class="t"/>
<path d="M389.2,340.8H392.8" class="t"/>
<path d="M389.2,353.5H391.2" class="t"/>
<path d="M389.2,366.2H392.8" class="t"/>
<path d="M389.2,378.9H391.2" class="t"/>
<path d="M389.2,391.6H392.8" class="t"/>
<path d="M389.2,404.3H391.2" class="t"/>
<path d="M389.2,417H392.8" class="t"/>
<path d="M389.2,429.7H391.2" class="t"/>
<path d="M389.2,442.4H392.8" class="t"/>
<path d="M389.2,455.1H391.2" class="t"/>
<path d="M389.2,467.8H392.8" class="t"/>
<text x="399.4" y="288.4" font-size="10">234</text>
<text x="413" y="382.4" font-size="10">307</text>
<text x="425.2" y="362.9" font-size="10">373</text>
<text x="439" y="383.1" font-size="10">447</text>
<text x="453.1" y="415.1" font-size="10">528</text>
<text x="471.6" y="409.5" font-size="10">609</text>
<text x="485.6" y="423" font-size="10">697</text>
<text x="506.3" y="426.5" font-size="10">801</text>
<text x="530.7" y="432.2" font-size="10">913</text>
<text x="547.5" y="449" font-size="10">1024</text>
<text x="566.3" y="439.6" font-size="10">1107</text>
<text x="596.3" y="443.3" font-size="10">1258</text>
<text x="628.9" y="447.6" font-size="10">1425</text>
<rect x="554.4" y="268.9" width="112" height="38.5" class="lg"/>
<path d="M554.7,276.2H578.7" class="kl"/>
<path d="M554.7,288.3H578.7" class="bl"/>
<text x="580.9" y="279.6" font-size="10">Actual Spectra</text>
<text x="580.9" y="292.1" font-size="10">Cumulative Fit Peak</text>
<text x="556.1" y="303.9" font-size="10">BZNNi3</text>
<text x="485.5" y="496.7" font-size="12">Raman Shift (cm<tspan font-size="7.4" dy="-5">-1</tspan><tspan dy="5">)</tspan></text>
<text transform="translate(380.5,406.5) rotate(-90)" font-size="11.8">Intensity (A. U.)</text>
</svg></body></html>
